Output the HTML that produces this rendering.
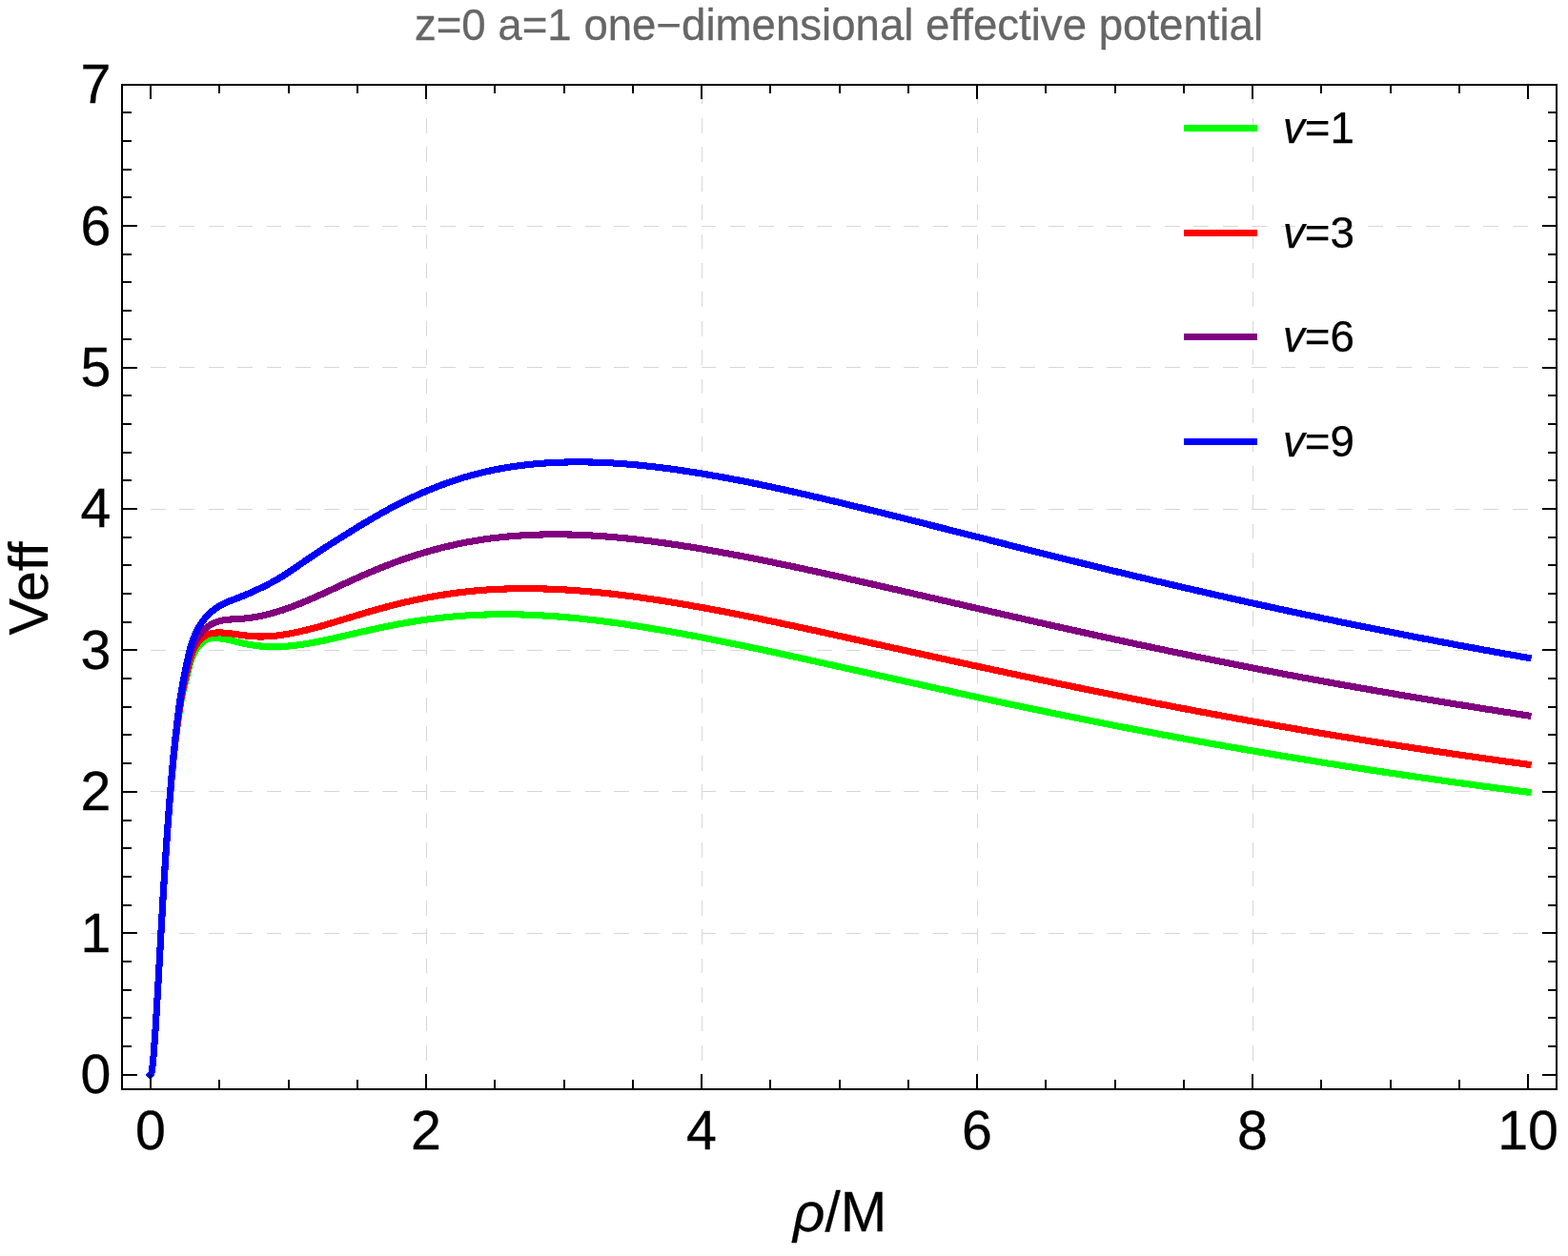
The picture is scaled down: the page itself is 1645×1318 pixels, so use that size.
<!DOCTYPE html>
<html lang="en"><head><meta charset="utf-8"><title>z=0 a=1 one-dimensional effective potential</title>
<style>html,body{margin:0;padding:0;background:#fff;}body{width:1645px;height:1318px;overflow:hidden;}svg{display:block;}</style>
</head><body>
<svg width="1645" height="1318" viewBox="0 0 1645 1318">
<rect width="1645" height="1318" fill="#fff"/>
<g stroke="#d7d7d7" stroke-width="1" fill="none" stroke-dasharray="15.8 14.6" shape-rendering="crispEdges">
<line x1="447.5" y1="1143.0" x2="447.5" y2="89.0"/>
<line x1="736.5" y1="1143.0" x2="736.5" y2="89.0"/>
<line x1="1025.5" y1="1143.0" x2="1025.5" y2="89.0"/>
<line x1="1314.5" y1="1143.0" x2="1314.5" y2="89.0"/>
<line x1="127.6" y1="979.5" x2="1633.0" y2="979.5"/>
<line x1="127.6" y1="830.5" x2="1633.0" y2="830.5"/>
<line x1="127.6" y1="682.5" x2="1633.0" y2="682.5"/>
<line x1="127.6" y1="534.5" x2="1633.0" y2="534.5"/>
<line x1="127.6" y1="385.5" x2="1633.0" y2="385.5"/>
<line x1="127.6" y1="237.5" x2="1633.0" y2="237.5"/>
</g>
<g fill="none" stroke-width="7.1" stroke-linecap="square" stroke-linejoin="round" shape-rendering="crispEdges">
<path stroke="#00ff00" d="M157.90,1128.00L158.60,1127.30L158.83,1126.15L159.04,1125.00L159.24,1123.84L159.43,1122.68L159.60,1121.53L159.77,1120.37L159.93,1119.21L160.07,1118.05L160.21,1116.88L160.34,1115.72L160.46,1114.56L160.58,1113.39L160.69,1112.23L160.80,1111.06L160.90,1109.89L160.99,1108.73L161.09,1107.56L161.18,1106.39L161.27,1105.22L161.36,1104.06L161.45,1102.89L161.54,1101.72L161.62,1100.55L161.71,1099.38L161.80,1098.22L161.88,1097.05L161.97,1095.88L162.05,1094.71L162.13,1093.54L162.22,1092.38L162.30,1091.21L162.38,1090.04L162.46,1088.87L162.54,1087.70L162.62,1086.53L162.70,1085.37L162.78,1084.20L162.86,1083.03L162.94,1081.86L163.01,1080.69L163.09,1079.52L163.17,1078.35L163.24,1077.19L163.32,1076.02L163.39,1074.85L163.47,1073.68L163.54,1072.51L163.62,1071.34L163.69,1070.17L163.76,1069.01L163.84,1067.84L163.91,1066.67L163.98,1065.50L164.05,1064.33L164.13,1063.16L164.20,1061.99L164.27,1060.82L164.34,1059.66L164.41,1058.49L164.48,1057.32L164.55,1056.15L164.62,1054.98L164.69,1053.81L164.76,1052.64L164.83,1051.47L164.90,1050.30L164.97,1049.14L165.03,1047.97L165.10,1046.80L165.17,1045.63L165.24,1044.46L165.31,1043.29L165.38,1042.12L165.44,1040.95L165.51,1039.78L165.58,1038.61L165.65,1037.45L165.71,1036.28L165.78,1035.11L165.85,1033.94L165.92,1032.77L165.98,1031.60L166.05,1030.43L166.12,1029.26L166.18,1028.09L166.25,1026.92L166.32,1025.75L166.38,1024.59L166.45,1023.42L166.52,1022.25L166.58,1021.08L166.65,1019.91L166.71,1018.74L166.78,1017.57L166.85,1016.40L166.91,1015.23L166.98,1014.06L167.05,1012.89L167.11,1011.72L167.18,1010.55L167.24,1009.39L167.31,1008.22L167.37,1007.05L167.44,1005.88L167.51,1004.71L167.57,1003.54L167.64,1002.37L167.70,1001.20L167.77,1000.03L167.84,998.86L167.90,997.69L167.97,996.52L168.03,995.36L168.10,994.19L168.16,993.02L168.23,991.85L168.30,990.68L168.36,989.51L168.43,988.34L168.49,987.17L168.56,986.00L168.63,984.83L168.69,983.66L168.76,982.49L168.83,981.32L168.89,980.16L168.96,978.99L169.03,977.82L169.09,976.65L169.16,975.48L169.23,974.31L169.29,973.14L169.36,971.97L169.43,970.80L169.49,969.63L169.56,968.46L169.63,967.29L169.70,966.13L169.76,964.96L169.83,963.79L169.90,962.62L169.97,961.45L170.04,960.28L170.10,959.11L170.17,957.94L170.24,956.77L170.31,955.60L170.38,954.44L170.45,953.27L170.52,952.10L170.59,950.93L170.66,949.76L170.73,948.59L170.80,947.42L170.87,946.25L170.94,945.08L171.01,943.92L171.08,942.75L171.15,941.58L171.22,940.41L171.29,939.24L171.36,938.07L171.43,936.90L171.50,935.73L171.57,934.56L171.65,933.40L171.72,932.23L171.79,931.06L171.86,929.89L171.93,928.72L172.01,927.55L172.08,926.38L172.15,925.21L172.23,924.05L172.30,922.88L172.37,921.71L172.45,920.54L172.52,919.37L172.60,918.20L172.67,917.03L172.75,915.87L172.82,914.70L172.90,913.53L172.97,912.36L173.05,911.19L173.12,910.02L173.20,908.85L173.28,907.69L173.35,906.52L173.43,905.35L173.51,904.18L173.58,903.01L173.66,901.84L173.74,900.67L173.82,899.51L173.90,898.34L173.97,897.17L174.05,896.00L174.13,894.83L174.21,893.66L174.29,892.50L174.37,891.33L174.45,890.16L174.53,888.99L174.61,887.82L174.69,886.66L174.77,885.49L174.86,884.32L174.94,883.15L175.02,881.98L175.10,880.81L175.18,879.65L175.27,878.48L175.35,877.31L175.43,876.14L175.52,874.97L175.60,873.81L175.69,872.64L175.77,871.47L175.86,870.30L175.94,869.13L176.03,867.97L176.11,866.80L176.20,865.63L176.28,864.46L176.37,863.29L176.46,862.13L176.55,860.96L176.63,859.79L176.72,858.62L176.81,857.45L176.90,856.29L176.99,855.12L177.08,853.95L177.17,852.78L177.26,851.62L177.35,850.45L177.44,849.28L177.53,848.11L177.63,846.95L177.72,845.78L177.81,844.61L177.90,843.44L178.00,842.28L178.09,841.11L178.19,839.94L178.28,838.77L178.38,837.61L178.48,836.44L178.57,835.27L178.67,834.11L178.77,832.94L178.87,831.77L178.96,830.60L179.06,829.44L179.16,828.27L179.26,827.10L179.36,825.94L179.47,824.77L179.57,823.60L179.67,822.44L179.77,821.27L179.88,820.10L179.98,818.94L180.09,817.77L180.19,816.61L180.30,815.44L180.40,814.27L180.51,813.11L180.62,811.94L180.73,810.78L180.84,809.61L180.95,808.44L181.06,807.28L181.17,806.11L181.28,804.95L181.39,803.78L181.51,802.62L181.62,801.45L181.73,800.29L181.85,799.12L181.96,797.96L182.08,796.79L182.20,795.63L182.32,794.46L182.43,793.30L182.55,792.13L182.67,790.97L182.80,789.80L182.92,788.64L183.04,787.47L183.17,786.31L183.29,785.15L183.42,783.98L183.55,782.82L183.67,781.65L183.80,780.49L183.94,779.33L184.07,778.16L184.20,777.00L184.34,775.84L184.47,774.67L184.61,773.51L184.75,772.35L184.89,771.19L185.03,770.02L185.17,768.86L185.32,767.70L185.46,766.54L185.61,765.38L185.76,764.22L185.91,763.05L186.06,761.89L186.22,760.73L186.37,759.57L186.53,758.41L186.69,757.25L186.85,756.09L187.01,754.93L187.18,753.77L187.34,752.61L187.51,751.45L187.68,750.29L187.85,749.13L188.03,747.97L188.21,746.81L188.38,745.65L188.57,744.50L188.75,743.34L188.94,742.18L189.13,741.03L189.32,739.87L189.52,738.72L189.72,737.56L189.92,736.41L190.13,735.25L190.34,734.10L190.56,732.95L190.78,731.80L191.01,730.65L191.24,729.51L191.47,728.36L191.71,727.22L191.96,726.07L192.21,724.93L192.46,723.79L192.73,722.65L193.00,721.51L193.27,720.38L193.55,719.24L193.83,718.11L194.12,716.97L194.41,715.84L194.69,714.71L194.98,713.57L195.26,712.43L195.54,711.29L195.81,710.15L196.09,709.01L196.36,707.87L196.64,706.73L196.91,705.59L197.19,704.45L197.48,703.31L197.77,702.17L198.07,701.04L198.37,699.91L198.69,698.78L199.01,697.65L199.35,696.53L199.69,695.41L200.05,694.30L200.43,693.20L200.82,692.10L201.23,691.00L201.66,689.92L202.10,688.84L202.57,687.76L203.06,686.70L203.57,685.65L204.10,684.60L204.66,683.56L205.25,682.54L205.86,681.52L206.50,680.52L207.17,679.54L207.86,678.59L208.59,677.66L209.34,676.76L210.13,675.90L210.95,675.08L211.80,674.31L212.68,673.58L213.59,672.91L214.54,672.29L215.52,671.74L216.53,671.25L217.58,670.83L218.66,670.48L219.77,670.20L220.91,669.98L222.07,669.81L223.25,669.69L224.44,669.63L225.64,669.60L226.85,669.62L228.06,669.68L229.27,669.76L230.48,669.88L231.68,670.02L232.86,670.18L234.04,670.36L235.21,670.55L236.36,670.76L237.51,670.98L238.65,671.21L239.78,671.46L240.91,671.71L242.04,671.97L243.16,672.24L244.28,672.51L245.39,672.79L246.51,673.07L247.63,673.34L248.75,673.62L249.88,673.89L251.01,674.16L252.14,674.43L253.28,674.69L254.43,674.94L255.57,675.19L256.72,675.44L257.87,675.67L259.03,675.91L260.19,676.13L261.35,676.35L262.51,676.55L263.67,676.75L264.83,676.95L266.00,677.13L267.17,677.30L268.33,677.47L269.50,677.62L270.67,677.77L271.84,677.90L273.00,678.02L274.17,678.13L275.34,678.24L276.51,678.33L277.67,678.41L278.84,678.49L280.01,678.55L281.17,678.60L282.34,678.65L283.51,678.68L284.67,678.71L285.84,678.72L287.01,678.73L288.18,678.73L289.34,678.72L290.51,678.70L291.68,678.67L292.84,678.63L294.01,678.59L295.18,678.53L296.35,678.47L297.51,678.40L298.68,678.32L299.85,678.24L301.01,678.15L302.18,678.05L303.35,677.94L304.51,677.83L305.68,677.71L306.84,677.58L308.01,677.45L309.17,677.31L310.34,677.17L311.50,677.02L312.66,676.86L313.82,676.70L314.98,676.54L316.15,676.37L317.31,676.19L318.46,676.01L319.62,675.83L320.78,675.64L321.94,675.45L323.09,675.25L324.25,675.05L325.40,674.85L326.55,674.64L327.71,674.43L328.86,674.22L330.01,674.00L331.16,673.78L332.31,673.56L333.46,673.33L334.61,673.11L335.75,672.87L336.90,672.64L338.05,672.40L339.19,672.17L340.34,671.93L341.49,671.68L342.63,671.44L343.77,671.19L344.92,670.94L346.06,670.69L347.21,670.44L348.35,670.19L349.49,669.93L350.63,669.68L351.78,669.42L352.92,669.16L354.06,668.90L355.20,668.64L356.34,668.38L357.48,668.12L358.63,667.86L359.77,667.60L360.91,667.34L362.05,667.07L363.19,666.81L364.33,666.55L365.47,666.29L366.61,666.02L367.76,665.76L368.90,665.50L370.04,665.23L371.18,664.97L372.32,664.71L373.46,664.45L374.60,664.19L375.74,663.93L376.89,663.67L378.03,663.40L379.17,663.15L380.31,662.89L381.45,662.63L382.60,662.37L383.74,662.11L384.88,661.85L386.02,661.60L387.17,661.34L388.31,661.09L389.45,660.84L390.60,660.58L391.74,660.33L392.88,660.08L394.03,659.83L395.17,659.58L396.32,659.34L397.46,659.09L398.60,658.85L399.75,658.60L400.90,658.36L402.04,658.12L403.19,657.88L404.33,657.65L405.48,657.41L406.63,657.17L407.77,656.94L408.92,656.71L410.07,656.48L411.22,656.25L412.37,656.03L413.52,655.81L414.67,655.58L415.82,655.36L416.97,655.15L418.12,654.93L419.27,654.72L420.42,654.50L421.57,654.29L422.72,654.09L423.88,653.88L425.03,653.68L426.18,653.48L427.34,653.28L428.49,653.08L429.65,652.89L430.80,652.70L431.96,652.51L433.12,652.32L434.27,652.14L435.43,651.95L436.59,651.77L437.74,651.59L438.90,651.42L440.06,651.24L441.22,651.07L442.38,650.90L443.54,650.73L444.70,650.57L445.86,650.40L447.02,650.24L448.18,650.08L449.34,649.93L450.50,649.77L451.66,649.62L452.82,649.47L453.99,649.33L455.15,649.18L456.31,649.04L457.48,648.90L458.64,648.76L459.80,648.62L460.97,648.49L462.13,648.36L463.29,648.23L464.46,648.10L465.62,647.98L466.79,647.86L467.95,647.74L469.12,647.62L470.29,647.50L471.45,647.39L472.62,647.28L473.78,647.17L474.95,647.06L476.12,646.96L477.28,646.86L478.45,646.76L479.62,646.66L480.79,646.57L481.95,646.48L483.12,646.39L484.29,646.30L485.46,646.22L486.63,646.13L487.79,646.05L488.96,645.97L490.13,645.90L491.30,645.83L492.47,645.75L493.64,645.69L494.81,645.62L495.98,645.56L497.15,645.49L498.32,645.44L499.49,645.38L500.66,645.32L501.83,645.27L503.00,645.22L504.16,645.18L505.33,645.13L506.50,645.09L507.68,645.05L508.85,645.01L510.02,644.98L511.19,644.94L512.36,644.91L513.53,644.88L514.70,644.86L515.87,644.83L517.04,644.81L518.21,644.79L519.38,644.77L520.55,644.76L521.72,644.74L522.89,644.73L524.06,644.72L525.23,644.72L526.40,644.71L527.57,644.71L528.74,644.71L529.92,644.71L531.09,644.72L532.26,644.72L533.43,644.73L534.60,644.74L535.77,644.75L536.94,644.77L538.11,644.79L539.28,644.80L540.45,644.83L541.62,644.85L542.79,644.87L543.96,644.90L545.14,644.93L546.31,644.96L547.48,644.99L548.65,645.03L549.82,645.06L550.99,645.10L552.16,645.14L553.33,645.18L554.50,645.23L555.67,645.27L556.84,645.32L558.01,645.37L559.18,645.42L560.35,645.47L561.52,645.53L562.69,645.59L563.86,645.65L565.03,645.71L566.20,645.77L567.37,645.83L568.54,645.90L569.71,645.97L570.88,646.04L572.05,646.11L573.22,646.18L574.38,646.25L575.55,646.33L576.72,646.41L577.89,646.49L579.06,646.57L580.23,646.65L581.40,646.74L582.56,646.82L583.73,646.91L584.90,647.00L586.07,647.09L587.24,647.18L588.40,647.28L589.57,647.37L590.74,647.47L591.91,647.57L593.07,647.67L594.24,647.77L595.41,647.87L596.57,647.98L597.74,648.09L598.91,648.19L600.07,648.30L601.24,648.41L602.40,648.53L603.57,648.64L604.73,648.76L605.90,648.87L607.06,648.99L608.23,649.11L609.39,649.23L610.56,649.35L611.72,649.48L612.89,649.60L614.05,649.73L615.22,649.85L616.38,649.98L617.54,650.11L618.71,650.24L619.87,650.38L621.03,650.51L622.20,650.65L623.36,650.78L624.52,650.92L625.68,651.06L626.85,651.20L628.01,651.34L629.17,651.49L630.33,651.63L631.49,651.78L632.65,651.92L633.82,652.07L634.98,652.22L636.14,652.37L637.30,652.52L638.46,652.68L639.62,652.83L640.78,652.99L641.94,653.14L643.10,653.30L644.26,653.46L645.42,653.62L646.58,653.78L647.74,653.94L648.90,654.10L650.06,654.27L651.22,654.43L652.38,654.60L653.54,654.77L654.70,654.93L655.85,655.10L657.01,655.27L658.17,655.45L659.33,655.62L660.49,655.79L661.64,655.97L662.80,656.14L663.96,656.32L665.12,656.50L666.27,656.68L667.43,656.85L668.59,657.03L669.75,657.22L670.90,657.40L672.06,657.58L673.22,657.77L674.37,657.95L675.53,658.14L676.68,658.32L677.84,658.51L679.00,658.70L680.15,658.89L681.31,659.08L682.46,659.27L683.62,659.46L684.77,659.66L685.93,659.85L687.08,660.04L688.24,660.24L689.39,660.43L690.55,660.63L691.70,660.83L692.86,661.03L694.01,661.23L695.16,661.43L696.32,661.63L697.47,661.83L698.63,662.03L699.78,662.23L700.93,662.44L702.09,662.64L703.24,662.85L704.39,663.05L705.54,663.26L706.70,663.46L707.85,663.67L709.00,663.88L710.16,664.09L711.31,664.30L712.46,664.51L713.61,664.72L714.76,664.93L715.92,665.14L717.07,665.35L718.22,665.57L719.37,665.78L720.52,665.99L721.67,666.21L722.82,666.42L723.98,666.64L725.13,666.86L726.28,667.07L727.43,667.29L728.58,667.51L729.73,667.73L730.88,667.95L732.03,668.17L733.18,668.39L734.33,668.61L735.48,668.83L736.63,669.05L737.78,669.27L738.93,669.49L740.08,669.72L741.23,669.94L742.38,670.16L743.53,670.39L744.68,670.61L745.83,670.84L746.97,671.06L748.12,671.29L749.27,671.52L750.42,671.75L751.57,671.97L752.72,672.20L753.87,672.43L755.01,672.66L756.16,672.89L757.31,673.12L758.46,673.35L759.61,673.58L760.76,673.81L761.90,674.04L763.05,674.27L764.20,674.51L765.35,674.74L766.49,674.97L767.64,675.21L768.79,675.44L769.94,675.67L771.08,675.91L772.23,676.14L773.38,676.38L774.52,676.62L775.67,676.85L776.82,677.09L777.96,677.33L779.11,677.56L780.26,677.80L781.40,678.04L782.55,678.28L783.70,678.52L784.84,678.76L785.99,679.00L787.14,679.24L788.28,679.48L789.43,679.72L790.57,679.96L791.72,680.20L792.86,680.44L794.01,680.68L795.16,680.92L796.30,681.17L797.45,681.41L798.59,681.65L799.74,681.90L800.88,682.14L802.03,682.38L803.17,682.63L804.32,682.87L805.46,683.12L806.61,683.36L807.75,683.61L808.90,683.85L810.04,684.10L811.19,684.35L812.33,684.59L813.48,684.84L814.62,685.09L815.77,685.33L816.91,685.58L818.06,685.83L819.20,686.07L820.35,686.32L821.49,686.57L822.64,686.82L823.78,687.07L824.92,687.32L826.07,687.57L827.21,687.82L828.36,688.07L829.50,688.31L830.64,688.56L831.79,688.81L832.93,689.06L834.08,689.32L835.22,689.57L836.36,689.82L837.51,690.07L838.65,690.32L839.80,690.57L840.94,690.82L842.08,691.07L843.23,691.33L844.37,691.58L845.51,691.83L846.66,692.08L847.80,692.33L848.94,692.59L850.09,692.84L851.23,693.09L852.38,693.34L853.52,693.60L854.66,693.85L855.81,694.10L856.95,694.36L858.09,694.61L859.24,694.86L860.38,695.12L861.52,695.37L862.67,695.62L863.81,695.88L864.95,696.13L866.09,696.39L867.24,696.64L868.38,696.89L869.52,697.15L870.67,697.40L871.81,697.66L872.95,697.91L874.10,698.17L875.24,698.42L876.38,698.68L877.53,698.93L878.67,699.18L879.81,699.44L880.96,699.69L882.10,699.95L883.24,700.20L884.38,700.46L885.53,700.71L886.67,700.97L887.81,701.22L888.96,701.48L890.10,701.73L891.24,701.99L892.39,702.24L893.53,702.50L894.67,702.75L895.81,703.01L896.96,703.26L898.10,703.52L899.24,703.77L900.39,704.03L901.53,704.28L902.67,704.54L903.82,704.79L904.96,705.05L906.10,705.30L907.24,705.56L908.39,705.81L909.53,706.07L910.67,706.32L911.82,706.58L912.96,706.83L914.10,707.09L915.25,707.34L916.39,707.59L917.53,707.85L918.67,708.10L919.82,708.36L920.96,708.61L922.10,708.87L923.25,709.12L924.39,709.38L925.53,709.63L926.68,709.89L927.82,710.14L928.96,710.40L930.11,710.65L931.25,710.91L932.39,711.16L933.53,711.42L934.68,711.67L935.82,711.92L936.96,712.18L938.11,712.43L939.25,712.69L940.39,712.94L941.54,713.20L942.68,713.45L943.82,713.70L944.97,713.96L946.11,714.21L947.25,714.47L948.40,714.72L949.54,714.97L950.68,715.23L951.82,715.48L952.97,715.74L954.11,715.99L955.25,716.24L956.40,716.50L957.54,716.75L958.68,717.00L959.83,717.26L960.97,717.51L962.11,717.76L963.26,718.02L964.40,718.27L965.54,718.52L966.69,718.78L967.83,719.03L968.97,719.28L970.12,719.54L971.26,719.79L972.40,720.04L973.55,720.29L974.69,720.55L975.84,720.80L976.98,721.05L978.12,721.30L979.27,721.56L980.41,721.81L981.55,722.06L982.70,722.31L983.84,722.56L984.98,722.82L986.13,723.07L987.27,723.32L988.41,723.57L989.56,723.82L990.70,724.07L991.85,724.32L992.99,724.58L994.13,724.83L995.28,725.08L996.42,725.33L997.57,725.58L998.71,725.83L999.85,726.08L1001.00,726.33L1002.14,726.58L1003.28,726.83L1004.43,727.08L1005.57,727.33L1006.72,727.58L1007.86,727.83L1009.01,728.08L1010.15,728.33L1011.29,728.58L1012.44,728.83L1013.58,729.08L1014.73,729.33L1015.87,729.57L1017.01,729.82L1018.16,730.07L1019.30,730.32L1020.45,730.57L1021.59,730.82L1022.74,731.07L1023.88,731.31L1025.03,731.56L1026.17,731.81L1027.31,732.06L1028.46,732.30L1029.60,732.55L1030.75,732.80L1031.89,733.05L1033.04,733.29L1034.18,733.54L1035.33,733.79L1036.47,734.03L1037.62,734.28L1038.76,734.52L1039.91,734.77L1041.05,735.02L1042.20,735.26L1043.34,735.51L1044.49,735.75L1045.63,736.00L1046.78,736.24L1047.92,736.49L1049.07,736.73L1050.21,736.98L1051.36,737.22L1052.50,737.47L1053.65,737.71L1054.79,737.95L1055.94,738.20L1057.08,738.44L1058.23,738.69L1059.37,738.93L1060.52,739.17L1061.67,739.41L1062.81,739.66L1063.96,739.90L1065.10,740.14L1066.25,740.38L1067.39,740.63L1068.54,740.87L1069.69,741.11L1070.83,741.35L1071.98,741.59L1073.12,741.83L1074.27,742.07L1075.41,742.32L1076.56,742.56L1077.71,742.80L1078.85,743.04L1080.00,743.28L1081.15,743.52L1082.29,743.76L1083.44,744.00L1084.58,744.23L1085.73,744.47L1086.88,744.71L1088.02,744.95L1089.17,745.19L1090.32,745.43L1091.46,745.67L1092.61,745.90L1093.76,746.14L1094.90,746.38L1096.05,746.62L1097.20,746.85L1098.34,747.09L1099.49,747.33L1100.64,747.56L1101.78,747.80L1102.93,748.03L1104.08,748.27L1105.23,748.51L1106.37,748.74L1107.52,748.98L1108.67,749.21L1109.81,749.45L1110.96,749.68L1112.11,749.92L1113.26,750.15L1114.40,750.38L1115.55,750.62L1116.70,750.85L1117.85,751.08L1118.99,751.32L1120.14,751.55L1121.29,751.78L1122.44,752.02L1123.58,752.25L1124.73,752.48L1125.88,752.71L1127.03,752.95L1128.18,753.18L1129.32,753.41L1130.47,753.64L1131.62,753.87L1132.77,754.10L1133.92,754.33L1135.06,754.56L1136.21,754.79L1137.36,755.02L1138.51,755.25L1139.66,755.48L1140.80,755.71L1141.95,755.94L1143.10,756.17L1144.25,756.40L1145.40,756.63L1146.55,756.86L1147.70,757.09L1148.84,757.31L1149.99,757.54L1151.14,757.77L1152.29,758.00L1153.44,758.22L1154.59,758.45L1155.74,758.68L1156.89,758.90L1158.03,759.13L1159.18,759.36L1160.33,759.58L1161.48,759.81L1162.63,760.03L1163.78,760.26L1164.93,760.49L1166.08,760.71L1167.23,760.94L1168.38,761.16L1169.53,761.38L1170.68,761.61L1171.82,761.83L1172.97,762.06L1174.12,762.28L1175.27,762.50L1176.42,762.73L1177.57,762.95L1178.72,763.17L1179.87,763.40L1181.02,763.62L1182.17,763.84L1183.32,764.06L1184.47,764.28L1185.62,764.51L1186.77,764.73L1187.92,764.95L1189.07,765.17L1190.22,765.39L1191.37,765.61L1192.52,765.83L1193.67,766.05L1194.82,766.27L1195.97,766.49L1197.12,766.71L1198.27,766.93L1199.42,767.15L1200.57,767.37L1201.72,767.59L1202.87,767.81L1204.02,768.03L1205.17,768.24L1206.33,768.46L1207.48,768.68L1208.63,768.90L1209.78,769.11L1210.93,769.33L1212.08,769.55L1213.23,769.77L1214.38,769.98L1215.53,770.20L1216.68,770.41L1217.83,770.63L1218.98,770.85L1220.14,771.06L1221.29,771.28L1222.44,771.49L1223.59,771.71L1224.74,771.92L1225.89,772.14L1227.04,772.35L1228.19,772.57L1229.35,772.78L1230.50,772.99L1231.65,773.21L1232.80,773.42L1233.95,773.63L1235.10,773.85L1236.25,774.06L1237.41,774.27L1238.56,774.48L1239.71,774.70L1240.86,774.91L1242.01,775.12L1243.16,775.33L1244.32,775.54L1245.47,775.75L1246.62,775.96L1247.77,776.17L1248.92,776.38L1250.08,776.60L1251.23,776.81L1252.38,777.02L1253.53,777.22L1254.68,777.43L1255.84,777.64L1256.99,777.85L1258.14,778.06L1259.29,778.27L1260.45,778.48L1261.60,778.69L1262.75,778.89L1263.90,779.10L1265.06,779.31L1266.21,779.52L1267.36,779.72L1268.51,779.93L1269.67,780.14L1270.82,780.34L1271.97,780.55L1273.12,780.76L1274.28,780.96L1275.43,781.17L1276.58,781.37L1277.74,781.58L1278.89,781.78L1280.04,781.99L1281.19,782.19L1282.35,782.40L1283.50,782.60L1284.65,782.81L1285.81,783.01L1286.96,783.21L1288.11,783.42L1289.27,783.62L1290.42,783.82L1291.57,784.03L1292.73,784.23L1293.88,784.43L1295.03,784.63L1296.19,784.84L1297.34,785.04L1298.49,785.24L1299.65,785.44L1300.80,785.64L1301.96,785.84L1303.11,786.04L1304.26,786.24L1305.42,786.44L1306.57,786.64L1307.72,786.84L1308.88,787.04L1310.03,787.24L1311.19,787.44L1312.34,787.64L1313.49,787.84L1314.65,788.04L1315.80,788.24L1316.96,788.44L1318.11,788.63L1319.26,788.83L1320.42,789.03L1321.57,789.23L1322.73,789.42L1323.88,789.62L1325.04,789.82L1326.19,790.01L1327.35,790.21L1328.50,790.41L1329.65,790.60L1330.81,790.80L1331.96,790.99L1333.12,791.19L1334.27,791.38L1335.43,791.58L1336.58,791.77L1337.74,791.97L1338.89,792.16L1340.05,792.36L1341.20,792.55L1342.36,792.74L1343.51,792.94L1344.67,793.13L1345.82,793.32L1346.98,793.52L1348.13,793.71L1349.29,793.90L1350.44,794.09L1351.60,794.29L1352.75,794.48L1353.91,794.67L1355.06,794.86L1356.22,795.05L1357.37,795.24L1358.53,795.43L1359.68,795.62L1360.84,795.81L1362.00,796.00L1363.15,796.19L1364.31,796.38L1365.46,796.57L1366.62,796.76L1367.77,796.95L1368.93,797.14L1370.09,797.33L1371.24,797.52L1372.40,797.71L1373.55,797.89L1374.71,798.08L1375.86,798.27L1377.02,798.46L1378.18,798.64L1379.33,798.83L1380.49,799.02L1381.64,799.20L1382.80,799.39L1383.96,799.58L1385.11,799.76L1386.27,799.95L1387.43,800.13L1388.58,800.32L1389.74,800.50L1390.89,800.69L1392.05,800.87L1393.21,801.06L1394.36,801.24L1395.52,801.43L1396.68,801.61L1397.83,801.79L1398.99,801.98L1400.15,802.16L1401.30,802.34L1402.46,802.53L1403.62,802.71L1404.77,802.89L1405.93,803.07L1407.09,803.26L1408.24,803.44L1409.40,803.62L1410.56,803.80L1411.71,803.98L1412.87,804.16L1414.03,804.35L1415.19,804.53L1416.34,804.71L1417.50,804.89L1418.66,805.07L1419.81,805.25L1420.97,805.43L1422.13,805.61L1423.29,805.79L1424.44,805.96L1425.60,806.14L1426.76,806.32L1427.91,806.50L1429.07,806.68L1430.23,806.86L1431.39,807.03L1432.54,807.21L1433.70,807.39L1434.86,807.57L1436.02,807.74L1437.17,807.92L1438.33,808.10L1439.49,808.27L1440.65,808.45L1441.80,808.63L1442.96,808.80L1444.12,808.98L1445.28,809.15L1446.44,809.33L1447.59,809.50L1448.75,809.68L1449.91,809.85L1451.07,810.03L1452.23,810.20L1453.38,810.38L1454.54,810.55L1455.70,810.72L1456.86,810.90L1458.02,811.07L1459.17,811.24L1460.33,811.42L1461.49,811.59L1462.65,811.76L1463.81,811.93L1464.97,812.11L1466.12,812.28L1467.28,812.45L1468.44,812.62L1469.60,812.79L1470.76,812.96L1471.92,813.14L1473.07,813.31L1474.23,813.48L1475.39,813.65L1476.55,813.82L1477.71,813.99L1478.87,814.16L1480.03,814.33L1481.19,814.50L1482.34,814.67L1483.50,814.83L1484.66,815.00L1485.82,815.17L1486.98,815.34L1488.14,815.51L1489.30,815.68L1490.46,815.85L1491.62,816.01L1492.77,816.18L1493.93,816.35L1495.09,816.51L1496.25,816.68L1497.41,816.85L1498.57,817.01L1499.73,817.18L1500.89,817.35L1502.05,817.51L1503.21,817.68L1504.37,817.84L1505.52,818.01L1506.68,818.17L1507.84,818.34L1509.00,818.50L1510.16,818.67L1511.32,818.83L1512.48,819.00L1513.64,819.16L1514.80,819.33L1515.96,819.49L1517.12,819.65L1518.28,819.82L1519.44,819.98L1520.60,820.14L1521.76,820.30L1522.92,820.47L1524.08,820.63L1525.24,820.79L1526.40,820.95L1527.56,821.12L1528.72,821.28L1529.88,821.44L1531.04,821.60L1532.20,821.76L1533.36,821.92L1534.52,822.08L1535.68,822.24L1536.84,822.40L1538.00,822.56L1539.16,822.72L1540.32,822.88L1541.48,823.04L1542.64,823.20L1543.80,823.36L1544.96,823.52L1546.12,823.68L1547.28,823.84L1548.44,823.99L1549.60,824.15L1550.76,824.31L1551.92,824.47L1553.08,824.63L1554.24,824.78L1555.40,824.94L1556.56,825.10L1557.72,825.25L1558.88,825.41L1560.04,825.57L1561.20,825.72L1562.36,825.88L1563.52,826.04L1564.68,826.19L1565.85,826.35L1567.01,826.50L1568.17,826.66L1569.33,826.81L1570.49,826.97L1571.65,827.12L1572.81,827.28L1573.97,827.43L1575.13,827.58L1576.29,827.74L1577.45,827.89L1578.61,828.05L1579.78,828.20L1580.94,828.35L1582.10,828.51L1583.26,828.66L1584.42,828.81L1585.58,828.96L1586.74,829.12L1587.90,829.27L1589.06,829.42L1590.22,829.57L1591.39,829.72L1592.55,829.87L1593.71,830.02L1594.87,830.18L1596.03,830.33L1597.19,830.48L1598.35,830.63L1599.51,830.78L1600.68,830.93L1601.84,831.08L1603.00,831.23"/>
<path stroke="#ff0000" d="M157.90,1128.00L158.60,1127.30L158.83,1126.14L159.04,1124.99L159.24,1123.83L159.43,1122.67L159.61,1121.51L159.78,1120.34L159.93,1119.18L160.08,1118.01L160.22,1116.85L160.35,1115.68L160.47,1114.51L160.59,1113.34L160.70,1112.17L160.80,1111.00L160.90,1109.83L161.00,1108.66L161.09,1107.49L161.18,1106.32L161.27,1105.14L161.36,1103.97L161.45,1102.80L161.54,1101.63L161.63,1100.46L161.72,1099.28L161.80,1098.11L161.89,1096.94L161.97,1095.77L162.06,1094.60L162.14,1093.42L162.22,1092.25L162.30,1091.08L162.39,1089.91L162.47,1088.73L162.55,1087.56L162.63,1086.39L162.71,1085.22L162.79,1084.04L162.87,1082.87L162.95,1081.70L163.02,1080.53L163.10,1079.35L163.18,1078.18L163.25,1077.01L163.33,1075.84L163.41,1074.66L163.48,1073.49L163.55,1072.32L163.63,1071.14L163.70,1069.97L163.78,1068.80L163.85,1067.63L163.92,1066.45L164.00,1065.28L164.07,1064.11L164.14,1062.94L164.21,1061.76L164.28,1060.59L164.35,1059.42L164.43,1058.24L164.50,1057.07L164.57,1055.90L164.64,1054.72L164.71,1053.55L164.78,1052.38L164.85,1051.21L164.92,1050.03L164.98,1048.86L165.05,1047.69L165.12,1046.51L165.19,1045.34L165.26,1044.17L165.33,1042.99L165.40,1041.82L165.46,1040.65L165.53,1039.47L165.60,1038.30L165.67,1037.13L165.74,1035.95L165.80,1034.78L165.87,1033.61L165.94,1032.43L166.01,1031.26L166.07,1030.09L166.14,1028.91L166.21,1027.74L166.27,1026.57L166.34,1025.39L166.41,1024.22L166.47,1023.05L166.54,1021.87L166.61,1020.70L166.67,1019.53L166.74,1018.35L166.80,1017.18L166.87,1016.01L166.94,1014.83L167.00,1013.66L167.07,1012.49L167.13,1011.31L167.20,1010.14L167.27,1008.97L167.33,1007.79L167.40,1006.62L167.46,1005.45L167.53,1004.27L167.60,1003.10L167.66,1001.93L167.73,1000.75L167.79,999.58L167.86,998.41L167.93,997.23L167.99,996.06L168.06,994.89L168.12,993.71L168.19,992.54L168.25,991.37L168.32,990.19L168.39,989.02L168.45,987.85L168.52,986.67L168.59,985.50L168.65,984.33L168.72,983.15L168.78,981.98L168.85,980.81L168.92,979.63L168.98,978.46L169.05,977.29L169.12,976.11L169.19,974.94L169.25,973.77L169.32,972.59L169.39,971.42L169.45,970.25L169.52,969.07L169.59,967.90L169.66,966.73L169.72,965.55L169.79,964.38L169.86,963.21L169.93,962.03L170.00,960.86L170.07,959.69L170.13,958.51L170.20,957.34L170.27,956.17L170.34,955.00L170.41,953.82L170.48,952.65L170.55,951.48L170.62,950.30L170.69,949.13L170.76,947.96L170.83,946.78L170.90,945.61L170.97,944.44L171.04,943.26L171.11,942.09L171.18,940.92L171.26,939.75L171.33,938.57L171.40,937.40L171.47,936.23L171.54,935.05L171.61,933.88L171.69,932.71L171.76,931.54L171.83,930.36L171.90,929.19L171.98,928.02L172.05,926.84L172.12,925.67L172.20,924.50L172.27,923.33L172.35,922.15L172.42,920.98L172.49,919.81L172.57,918.64L172.64,917.46L172.72,916.29L172.79,915.12L172.87,913.95L172.95,912.77L173.02,911.60L173.10,910.43L173.17,909.25L173.25,908.08L173.33,906.91L173.40,905.74L173.48,904.56L173.56,903.39L173.63,902.22L173.71,901.05L173.79,899.87L173.87,898.70L173.95,897.53L174.03,896.36L174.10,895.18L174.18,894.01L174.26,892.84L174.34,891.67L174.42,890.49L174.50,889.32L174.58,888.15L174.66,886.98L174.74,885.80L174.82,884.63L174.90,883.46L174.98,882.29L175.07,881.11L175.15,879.94L175.23,878.77L175.31,877.60L175.39,876.42L175.48,875.25L175.56,874.08L175.64,872.91L175.73,871.74L175.81,870.56L175.89,869.39L175.98,868.22L176.06,867.05L176.15,865.87L176.23,864.70L176.32,863.53L176.40,862.36L176.49,861.18L176.58,860.01L176.66,858.84L176.75,857.67L176.84,856.50L176.92,855.32L177.01,854.15L177.10,852.98L177.19,851.81L177.28,850.63L177.37,849.46L177.46,848.29L177.55,847.12L177.64,845.95L177.73,844.78L177.82,843.60L177.91,842.43L178.01,841.26L178.10,840.09L178.19,838.92L178.29,837.75L178.38,836.57L178.48,835.40L178.57,834.23L178.67,833.06L178.77,831.89L178.86,830.72L178.96,829.55L179.06,828.37L179.16,827.20L179.26,826.03L179.36,824.86L179.46,823.69L179.56,822.52L179.66,821.35L179.77,820.18L179.87,819.01L179.97,817.84L180.08,816.67L180.18,815.50L180.29,814.33L180.40,813.16L180.50,811.99L180.61,810.82L180.72,809.65L180.83,808.48L180.94,807.31L181.05,806.14L181.17,804.97L181.28,803.80L181.39,802.63L181.51,801.46L181.62,800.29L181.74,799.12L181.86,797.95L181.97,796.78L182.09,795.62L182.21,794.45L182.33,793.28L182.45,792.11L182.58,790.94L182.70,789.77L182.82,788.61L182.95,787.44L183.07,786.27L183.20,785.10L183.33,783.94L183.46,782.77L183.59,781.60L183.72,780.43L183.85,779.27L183.98,778.10L184.12,776.93L184.25,775.76L184.39,774.60L184.53,773.43L184.66,772.26L184.80,771.10L184.94,769.93L185.09,768.76L185.23,767.60L185.37,766.43L185.52,765.26L185.67,764.10L185.81,762.93L185.96,761.77L186.11,760.60L186.26,759.43L186.42,758.27L186.57,757.10L186.73,755.94L186.88,754.77L187.04,753.61L187.20,752.44L187.36,751.28L187.52,750.11L187.69,748.95L187.85,747.78L188.02,746.62L188.19,745.45L188.36,744.29L188.53,743.12L188.70,741.96L188.88,740.80L189.06,739.63L189.24,738.47L189.43,737.31L189.61,736.15L189.80,734.99L190.00,733.83L190.20,732.67L190.40,731.51L190.60,730.35L190.81,729.20L191.02,728.04L191.24,726.89L191.46,725.73L191.68,724.58L191.91,723.43L192.14,722.28L192.38,721.13L192.63,719.99L192.87,718.84L193.13,717.70L193.39,716.55L193.65,715.41L193.92,714.27L194.20,713.13L194.47,712.00L194.75,710.86L195.02,709.72L195.29,708.57L195.56,707.43L195.82,706.28L196.09,705.13L196.35,703.98L196.61,702.83L196.88,701.68L197.15,700.53L197.42,699.39L197.70,698.24L197.99,697.10L198.28,695.95L198.58,694.82L198.89,693.68L199.22,692.55L199.55,691.43L199.90,690.30L200.26,689.19L200.64,688.08L201.04,686.98L201.45,685.88L201.89,684.79L202.34,683.71L202.82,682.64L203.32,681.58L203.84,680.53L204.39,679.49L204.96,678.45L205.56,677.43L206.19,676.42L206.85,675.43L207.53,674.46L208.25,673.52L209.00,672.60L209.77,671.71L210.58,670.86L211.42,670.05L212.29,669.28L213.20,668.56L214.14,667.88L215.11,667.26L216.12,666.70L217.16,666.20L218.23,665.75L219.33,665.37L220.47,665.03L221.62,664.75L222.79,664.52L223.98,664.33L225.18,664.18L226.39,664.07L227.60,663.99L228.82,663.95L230.04,663.93L231.25,663.94L232.45,663.97L233.64,664.02L234.83,664.09L236.00,664.17L237.17,664.27L238.33,664.38L239.48,664.50L240.63,664.64L241.78,664.78L242.92,664.93L244.06,665.09L245.20,665.25L246.35,665.42L247.49,665.59L248.63,665.75L249.78,665.92L250.94,666.09L252.09,666.25L253.26,666.41L254.42,666.56L255.59,666.72L256.76,666.86L257.93,667.00L259.11,667.13L260.28,667.26L261.46,667.38L262.64,667.49L263.82,667.59L265.01,667.68L266.19,667.77L267.37,667.84L268.55,667.90L269.73,667.95L270.91,667.98L272.09,668.01L273.27,668.02L274.45,668.02L275.62,668.01L276.80,667.98L277.97,667.95L279.14,667.91L280.31,667.85L281.48,667.79L282.65,667.71L283.82,667.63L284.99,667.54L286.16,667.44L287.33,667.33L288.49,667.21L289.66,667.08L290.82,666.94L291.99,666.80L293.15,666.65L294.31,666.50L295.47,666.33L296.64,666.16L297.80,665.99L298.96,665.80L300.12,665.61L301.27,665.42L302.43,665.21L303.59,665.01L304.74,664.79L305.90,664.57L307.05,664.35L308.21,664.12L309.36,663.88L310.51,663.64L311.66,663.40L312.81,663.15L313.96,662.89L315.11,662.63L316.25,662.37L317.40,662.10L318.54,661.83L319.69,661.56L320.83,661.28L321.97,661.00L323.11,660.71L324.25,660.42L325.39,660.13L326.53,659.83L327.66,659.53L328.80,659.23L329.93,658.93L331.07,658.62L332.20,658.31L333.33,658.00L334.47,657.68L335.60,657.36L336.73,657.04L337.86,656.72L338.99,656.40L340.12,656.07L341.24,655.74L342.37,655.41L343.50,655.08L344.63,654.75L345.75,654.42L346.88,654.08L348.00,653.75L349.13,653.41L350.25,653.07L351.38,652.73L352.50,652.39L353.63,652.05L354.75,651.71L355.88,651.37L357.00,651.03L358.13,650.69L359.25,650.35L360.38,650.01L361.50,649.66L362.62,649.32L363.75,648.98L364.87,648.64L366.00,648.30L367.12,647.96L368.25,647.62L369.37,647.28L370.50,646.94L371.62,646.60L372.75,646.26L373.87,645.92L375.00,645.59L376.13,645.25L377.25,644.92L378.38,644.58L379.51,644.25L380.63,643.91L381.76,643.58L382.89,643.25L384.01,642.92L385.14,642.59L386.27,642.26L387.40,641.93L388.53,641.61L389.66,641.28L390.79,640.96L391.92,640.63L393.05,640.31L394.18,639.99L395.31,639.67L396.44,639.35L397.57,639.04L398.70,638.72L399.83,638.41L400.97,638.10L402.10,637.79L403.23,637.48L404.37,637.18L405.50,636.87L406.64,636.57L407.77,636.27L408.91,635.97L410.05,635.67L411.18,635.38L412.32,635.08L413.46,634.79L414.60,634.50L415.74,634.21L416.88,633.93L418.02,633.65L419.16,633.37L420.30,633.09L421.44,632.81L422.59,632.54L423.73,632.27L424.87,632.00L426.02,631.73L427.16,631.47L428.31,631.21L429.46,630.95L430.60,630.69L431.75,630.44L432.90,630.19L434.05,629.94L435.20,629.69L436.35,629.44L437.50,629.20L438.65,628.96L439.80,628.72L440.95,628.49L442.10,628.26L443.26,628.03L444.41,627.80L445.56,627.57L446.72,627.35L447.87,627.13L449.03,626.91L450.18,626.69L451.34,626.48L452.50,626.27L453.65,626.06L454.81,625.86L455.97,625.65L457.13,625.45L458.29,625.25L459.45,625.06L460.61,624.87L461.77,624.67L462.93,624.49L464.09,624.30L465.25,624.12L466.41,623.94L467.57,623.76L468.74,623.58L469.90,623.41L471.06,623.24L472.22,623.07L473.39,622.91L474.55,622.74L475.72,622.58L476.88,622.43L478.05,622.27L479.21,622.12L480.38,621.97L481.54,621.82L482.71,621.68L483.88,621.53L485.04,621.39L486.21,621.26L487.38,621.12L488.55,620.99L489.72,620.86L490.88,620.74L492.05,620.61L493.22,620.49L494.39,620.37L495.56,620.26L496.73,620.14L497.90,620.03L499.07,619.93L500.24,619.82L501.41,619.72L502.58,619.62L503.75,619.52L504.92,619.43L506.09,619.33L507.26,619.24L508.43,619.16L509.61,619.07L510.78,618.99L511.95,618.91L513.12,618.84L514.29,618.76L515.47,618.69L516.64,618.62L517.81,618.56L518.98,618.49L520.16,618.43L521.33,618.37L522.50,618.32L523.68,618.26L524.85,618.21L526.02,618.16L527.20,618.12L528.37,618.07L529.55,618.03L530.72,617.99L531.89,617.95L533.07,617.92L534.24,617.89L535.42,617.86L536.59,617.83L537.77,617.80L538.94,617.78L540.12,617.76L541.29,617.74L542.46,617.72L543.64,617.71L544.81,617.70L545.99,617.69L547.16,617.68L548.34,617.67L549.51,617.67L550.69,617.67L551.86,617.67L553.04,617.67L554.22,617.68L555.39,617.69L556.57,617.69L557.74,617.71L558.92,617.72L560.09,617.74L561.27,617.75L562.44,617.77L563.62,617.80L564.79,617.82L565.97,617.84L567.14,617.87L568.32,617.90L569.49,617.93L570.67,617.97L571.84,618.00L573.02,618.04L574.19,618.08L575.37,618.12L576.54,618.17L577.72,618.21L578.89,618.26L580.07,618.31L581.24,618.36L582.41,618.41L583.59,618.46L584.76,618.52L585.94,618.58L587.11,618.64L588.28,618.70L589.46,618.76L590.63,618.83L591.81,618.89L592.98,618.96L594.15,619.03L595.33,619.10L596.50,619.18L597.67,619.25L598.84,619.33L600.02,619.41L601.19,619.49L602.36,619.57L603.53,619.65L604.71,619.74L605.88,619.83L607.05,619.91L608.22,620.00L609.39,620.09L610.57,620.19L611.74,620.28L612.91,620.38L614.08,620.48L615.25,620.57L616.42,620.68L617.59,620.78L618.76,620.88L619.93,620.99L621.10,621.09L622.27,621.20L623.44,621.31L624.61,621.42L625.78,621.53L626.95,621.65L628.12,621.76L629.29,621.88L630.46,622.00L631.63,622.12L632.80,622.24L633.96,622.36L635.13,622.48L636.30,622.61L637.47,622.73L638.64,622.86L639.80,622.99L640.97,623.12L642.14,623.25L643.31,623.39L644.47,623.52L645.64,623.66L646.81,623.79L647.98,623.93L649.14,624.07L650.31,624.21L651.48,624.35L652.64,624.50L653.81,624.64L654.97,624.79L656.14,624.93L657.31,625.08L658.47,625.23L659.64,625.38L660.80,625.53L661.97,625.69L663.13,625.84L664.30,626.00L665.46,626.15L666.63,626.31L667.79,626.47L668.95,626.63L670.12,626.79L671.28,626.95L672.45,627.11L673.61,627.28L674.77,627.44L675.94,627.61L677.10,627.78L678.26,627.94L679.43,628.11L680.59,628.28L681.75,628.46L682.92,628.63L684.08,628.80L685.24,628.98L686.40,629.15L687.56,629.33L688.73,629.51L689.89,629.68L691.05,629.86L692.21,630.04L693.37,630.22L694.53,630.41L695.69,630.59L696.86,630.77L698.02,630.96L699.18,631.14L700.34,631.33L701.50,631.52L702.66,631.71L703.82,631.90L704.98,632.09L706.14,632.28L707.30,632.47L708.46,632.66L709.62,632.85L710.78,633.05L711.93,633.24L713.09,633.44L714.25,633.64L715.41,633.83L716.57,634.03L717.73,634.23L718.89,634.43L720.04,634.63L721.20,634.83L722.36,635.03L723.52,635.23L724.68,635.44L725.83,635.64L726.99,635.85L728.15,636.05L729.30,636.26L730.46,636.46L731.62,636.67L732.77,636.88L733.93,637.09L735.09,637.30L736.24,637.51L737.40,637.72L738.56,637.93L739.71,638.14L740.87,638.35L742.02,638.57L743.18,638.78L744.33,638.99L745.49,639.21L746.64,639.43L747.80,639.64L748.95,639.86L750.11,640.08L751.26,640.29L752.42,640.51L753.57,640.73L754.73,640.95L755.88,641.17L757.03,641.39L758.19,641.61L759.34,641.84L760.50,642.06L761.65,642.28L762.80,642.51L763.96,642.73L765.11,642.95L766.26,643.18L767.42,643.41L768.57,643.63L769.72,643.86L770.88,644.09L772.03,644.31L773.18,644.54L774.33,644.77L775.49,645.00L776.64,645.23L777.79,645.46L778.94,645.69L780.09,645.92L781.25,646.16L782.40,646.39L783.55,646.62L784.70,646.85L785.85,647.09L787.01,647.32L788.16,647.56L789.31,647.79L790.46,648.03L791.61,648.26L792.76,648.50L793.91,648.73L795.06,648.97L796.21,649.21L797.37,649.45L798.52,649.68L799.67,649.92L800.82,650.16L801.97,650.40L803.12,650.64L804.27,650.88L805.42,651.12L806.57,651.36L807.72,651.60L808.87,651.84L810.02,652.09L811.17,652.33L812.32,652.57L813.47,652.81L814.62,653.06L815.77,653.30L816.92,653.54L818.07,653.79L819.22,654.03L820.37,654.28L821.52,654.52L822.67,654.77L823.81,655.01L824.96,655.26L826.11,655.50L827.26,655.75L828.41,656.00L829.56,656.24L830.71,656.49L831.86,656.74L833.01,656.98L834.16,657.23L835.30,657.48L836.45,657.73L837.60,657.98L838.75,658.22L839.90,658.47L841.05,658.72L842.20,658.97L843.34,659.22L844.49,659.47L845.64,659.72L846.79,659.97L847.94,660.22L849.09,660.47L850.24,660.72L851.38,660.97L852.53,661.22L853.68,661.47L854.83,661.73L855.98,661.98L857.12,662.23L858.27,662.48L859.42,662.73L860.57,662.98L861.72,663.24L862.86,663.49L864.01,663.74L865.16,663.99L866.31,664.24L867.46,664.50L868.60,664.75L869.75,665.00L870.90,665.25L872.05,665.51L873.19,665.76L874.34,666.01L875.49,666.27L876.64,666.52L877.79,666.77L878.93,667.02L880.08,667.28L881.23,667.53L882.38,667.78L883.52,668.04L884.67,668.29L885.82,668.54L886.97,668.80L888.11,669.05L889.26,669.30L890.41,669.56L891.56,669.81L892.70,670.06L893.85,670.32L895.00,670.57L896.15,670.82L897.30,671.08L898.44,671.33L899.59,671.58L900.74,671.84L901.89,672.09L903.03,672.34L904.18,672.60L905.33,672.85L906.48,673.11L907.62,673.36L908.77,673.61L909.92,673.87L911.07,674.12L912.21,674.37L913.36,674.63L914.51,674.88L915.66,675.13L916.80,675.39L917.95,675.64L919.10,675.90L920.25,676.15L921.39,676.40L922.54,676.66L923.69,676.91L924.84,677.16L925.98,677.42L927.13,677.67L928.28,677.92L929.43,678.18L930.57,678.43L931.72,678.69L932.87,678.94L934.02,679.19L935.16,679.45L936.31,679.70L937.46,679.95L938.61,680.21L939.75,680.46L940.90,680.71L942.05,680.97L943.20,681.22L944.34,681.47L945.49,681.73L946.64,681.98L947.79,682.23L948.93,682.49L950.08,682.74L951.23,682.99L952.38,683.25L953.52,683.50L954.67,683.75L955.82,684.01L956.97,684.26L958.12,684.51L959.26,684.76L960.41,685.02L961.56,685.27L962.71,685.52L963.85,685.78L965.00,686.03L966.15,686.28L967.30,686.53L968.44,686.79L969.59,687.04L970.74,687.29L971.89,687.54L973.04,687.80L974.18,688.05L975.33,688.30L976.48,688.55L977.63,688.81L978.77,689.06L979.92,689.31L981.07,689.56L982.22,689.81L983.37,690.07L984.51,690.32L985.66,690.57L986.81,690.82L987.96,691.07L989.10,691.33L990.25,691.58L991.40,691.83L992.55,692.08L993.70,692.33L994.84,692.58L995.99,692.83L997.14,693.09L998.29,693.34L999.44,693.59L1000.58,693.84L1001.73,694.09L1002.88,694.34L1004.03,694.59L1005.18,694.84L1006.32,695.09L1007.47,695.34L1008.62,695.59L1009.77,695.84L1010.92,696.09L1012.07,696.34L1013.21,696.59L1014.36,696.84L1015.51,697.09L1016.66,697.34L1017.81,697.59L1018.95,697.84L1020.10,698.09L1021.25,698.34L1022.40,698.59L1023.55,698.84L1024.70,699.09L1025.84,699.34L1026.99,699.59L1028.14,699.84L1029.29,700.09L1030.44,700.34L1031.59,700.58L1032.74,700.83L1033.88,701.08L1035.03,701.33L1036.18,701.58L1037.33,701.83L1038.48,702.07L1039.63,702.32L1040.78,702.57L1041.93,702.82L1043.07,703.07L1044.22,703.31L1045.37,703.56L1046.52,703.81L1047.67,704.06L1048.82,704.30L1049.97,704.55L1051.12,704.80L1052.26,705.04L1053.41,705.29L1054.56,705.54L1055.71,705.78L1056.86,706.03L1058.01,706.27L1059.16,706.52L1060.31,706.77L1061.46,707.01L1062.61,707.26L1063.76,707.50L1064.91,707.75L1066.05,707.99L1067.20,708.24L1068.35,708.48L1069.50,708.73L1070.65,708.97L1071.80,709.22L1072.95,709.46L1074.10,709.71L1075.25,709.95L1076.40,710.19L1077.55,710.44L1078.70,710.68L1079.85,710.93L1081.00,711.17L1082.15,711.41L1083.30,711.66L1084.45,711.90L1085.60,712.14L1086.75,712.38L1087.90,712.63L1089.05,712.87L1090.20,713.11L1091.35,713.35L1092.50,713.60L1093.65,713.84L1094.80,714.08L1095.95,714.32L1097.10,714.56L1098.25,714.80L1099.40,715.05L1100.55,715.29L1101.70,715.53L1102.85,715.77L1104.00,716.01L1105.15,716.25L1106.30,716.49L1107.45,716.73L1108.60,716.97L1109.75,717.21L1110.90,717.45L1112.05,717.69L1113.20,717.93L1114.35,718.17L1115.50,718.41L1116.65,718.64L1117.80,718.88L1118.95,719.12L1120.11,719.36L1121.26,719.60L1122.41,719.84L1123.56,720.07L1124.71,720.31L1125.86,720.55L1127.01,720.79L1128.16,721.02L1129.31,721.26L1130.46,721.50L1131.61,721.73L1132.77,721.97L1133.92,722.21L1135.07,722.44L1136.22,722.68L1137.37,722.92L1138.52,723.15L1139.67,723.39L1140.82,723.62L1141.98,723.86L1143.13,724.09L1144.28,724.33L1145.43,724.56L1146.58,724.80L1147.73,725.03L1148.89,725.27L1150.04,725.50L1151.19,725.74L1152.34,725.97L1153.49,726.20L1154.64,726.44L1155.80,726.67L1156.95,726.90L1158.10,727.14L1159.25,727.37L1160.40,727.60L1161.55,727.84L1162.71,728.07L1163.86,728.30L1165.01,728.53L1166.16,728.76L1167.32,729.00L1168.47,729.23L1169.62,729.46L1170.77,729.69L1171.92,729.92L1173.08,730.15L1174.23,730.38L1175.38,730.61L1176.53,730.84L1177.69,731.07L1178.84,731.30L1179.99,731.53L1181.14,731.76L1182.30,731.99L1183.45,732.22L1184.60,732.45L1185.75,732.68L1186.91,732.91L1188.06,733.14L1189.21,733.37L1190.37,733.59L1191.52,733.82L1192.67,734.05L1193.82,734.28L1194.98,734.51L1196.13,734.73L1197.28,734.96L1198.44,735.19L1199.59,735.41L1200.74,735.64L1201.90,735.87L1203.05,736.09L1204.20,736.32L1205.36,736.55L1206.51,736.77L1207.66,737.00L1208.82,737.22L1209.97,737.45L1211.12,737.67L1212.28,737.90L1213.43,738.12L1214.58,738.35L1215.74,738.57L1216.89,738.79L1218.04,739.02L1219.20,739.24L1220.35,739.47L1221.50,739.69L1222.66,739.91L1223.81,740.14L1224.97,740.36L1226.12,740.58L1227.27,740.80L1228.43,741.03L1229.58,741.25L1230.74,741.47L1231.89,741.69L1233.04,741.91L1234.20,742.13L1235.35,742.36L1236.51,742.58L1237.66,742.80L1238.82,743.02L1239.97,743.24L1241.12,743.46L1242.28,743.68L1243.43,743.90L1244.59,744.12L1245.74,744.34L1246.90,744.56L1248.05,744.77L1249.21,744.99L1250.36,745.21L1251.52,745.43L1252.67,745.65L1253.83,745.87L1254.98,746.08L1256.13,746.30L1257.29,746.52L1258.44,746.74L1259.60,746.95L1260.75,747.17L1261.91,747.39L1263.06,747.60L1264.22,747.82L1265.37,748.04L1266.53,748.25L1267.69,748.47L1268.84,748.68L1270.00,748.90L1271.15,749.11L1272.31,749.33L1273.46,749.54L1274.62,749.76L1275.77,749.97L1276.93,750.18L1278.08,750.40L1279.24,750.61L1280.40,750.83L1281.55,751.04L1282.71,751.25L1283.86,751.46L1285.02,751.68L1286.17,751.89L1287.33,752.10L1288.49,752.31L1289.64,752.52L1290.80,752.74L1291.95,752.95L1293.11,753.16L1294.27,753.37L1295.42,753.58L1296.58,753.79L1297.73,754.00L1298.89,754.21L1300.05,754.42L1301.20,754.63L1302.36,754.84L1303.52,755.05L1304.67,755.26L1305.83,755.47L1306.99,755.68L1308.14,755.88L1309.30,756.09L1310.46,756.30L1311.61,756.51L1312.77,756.72L1313.93,756.92L1315.08,757.13L1316.24,757.34L1317.40,757.54L1318.55,757.75L1319.71,757.96L1320.87,758.16L1322.02,758.37L1323.18,758.57L1324.34,758.78L1325.50,758.98L1326.65,759.19L1327.81,759.39L1328.97,759.60L1330.12,759.80L1331.28,760.01L1332.44,760.21L1333.60,760.41L1334.75,760.62L1335.91,760.82L1337.07,761.02L1338.23,761.22L1339.38,761.43L1340.54,761.63L1341.70,761.83L1342.86,762.03L1344.01,762.24L1345.17,762.44L1346.33,762.64L1347.49,762.84L1348.65,763.04L1349.80,763.24L1350.96,763.44L1352.12,763.64L1353.28,763.84L1354.44,764.04L1355.59,764.24L1356.75,764.44L1357.91,764.64L1359.07,764.84L1360.23,765.03L1361.39,765.23L1362.54,765.43L1363.70,765.63L1364.86,765.83L1366.02,766.02L1367.18,766.22L1368.34,766.42L1369.49,766.62L1370.65,766.81L1371.81,767.01L1372.97,767.20L1374.13,767.40L1375.29,767.60L1376.45,767.79L1377.61,767.99L1378.76,768.18L1379.92,768.38L1381.08,768.57L1382.24,768.77L1383.40,768.96L1384.56,769.16L1385.72,769.35L1386.88,769.54L1388.04,769.74L1389.20,769.93L1390.36,770.12L1391.51,770.32L1392.67,770.51L1393.83,770.70L1394.99,770.89L1396.15,771.09L1397.31,771.28L1398.47,771.47L1399.63,771.66L1400.79,771.85L1401.95,772.04L1403.11,772.23L1404.27,772.42L1405.43,772.61L1406.59,772.80L1407.75,772.99L1408.91,773.18L1410.07,773.37L1411.23,773.56L1412.39,773.75L1413.55,773.94L1414.71,774.13L1415.87,774.32L1417.03,774.51L1418.19,774.70L1419.35,774.88L1420.51,775.07L1421.67,775.26L1422.83,775.45L1423.99,775.63L1425.15,775.82L1426.31,776.01L1427.47,776.19L1428.63,776.38L1429.79,776.57L1430.95,776.75L1432.11,776.94L1433.27,777.12L1434.43,777.31L1435.59,777.49L1436.75,777.68L1437.91,777.86L1439.07,778.05L1440.23,778.23L1441.39,778.42L1442.55,778.60L1443.72,778.78L1444.88,778.97L1446.04,779.15L1447.20,779.33L1448.36,779.52L1449.52,779.70L1450.68,779.88L1451.84,780.06L1453.00,780.25L1454.16,780.43L1455.32,780.61L1456.49,780.79L1457.65,780.97L1458.81,781.15L1459.97,781.34L1461.13,781.52L1462.29,781.70L1463.45,781.88L1464.61,782.06L1465.78,782.24L1466.94,782.42L1468.10,782.60L1469.26,782.78L1470.42,782.96L1471.58,783.14L1472.74,783.31L1473.91,783.49L1475.07,783.67L1476.23,783.85L1477.39,784.03L1478.55,784.21L1479.71,784.38L1480.88,784.56L1482.04,784.74L1483.20,784.92L1484.36,785.09L1485.52,785.27L1486.68,785.45L1487.85,785.62L1489.01,785.80L1490.17,785.98L1491.33,786.15L1492.49,786.33L1493.66,786.50L1494.82,786.68L1495.98,786.85L1497.14,787.03L1498.30,787.20L1499.47,787.38L1500.63,787.55L1501.79,787.73L1502.95,787.90L1504.12,788.07L1505.28,788.25L1506.44,788.42L1507.60,788.59L1508.76,788.77L1509.93,788.94L1511.09,789.11L1512.25,789.29L1513.41,789.46L1514.58,789.63L1515.74,789.80L1516.90,789.97L1518.06,790.15L1519.23,790.32L1520.39,790.49L1521.55,790.66L1522.72,790.83L1523.88,791.00L1525.04,791.17L1526.20,791.34L1527.37,791.51L1528.53,791.68L1529.69,791.85L1530.85,792.02L1532.02,792.19L1533.18,792.36L1534.34,792.53L1535.51,792.70L1536.67,792.87L1537.83,793.04L1539.00,793.21L1540.16,793.37L1541.32,793.54L1542.48,793.71L1543.65,793.88L1544.81,794.05L1545.97,794.21L1547.14,794.38L1548.30,794.55L1549.46,794.71L1550.63,794.88L1551.79,795.05L1552.95,795.21L1554.12,795.38L1555.28,795.55L1556.44,795.71L1557.61,795.88L1558.77,796.04L1559.93,796.21L1561.10,796.37L1562.26,796.54L1563.42,796.70L1564.59,796.87L1565.75,797.03L1566.92,797.20L1568.08,797.36L1569.24,797.52L1570.41,797.69L1571.57,797.85L1572.73,798.01L1573.90,798.18L1575.06,798.34L1576.23,798.50L1577.39,798.67L1578.55,798.83L1579.72,798.99L1580.88,799.15L1582.04,799.32L1583.21,799.48L1584.37,799.64L1585.54,799.80L1586.70,799.96L1587.86,800.12L1589.03,800.28L1590.19,800.45L1591.36,800.61L1592.52,800.77L1593.68,800.93L1594.85,801.09L1596.01,801.25L1597.18,801.41L1598.34,801.57L1599.51,801.73L1600.67,801.89L1601.83,802.05L1603.00,802.20"/>
<path stroke="#800080" d="M157.90,1128.00L158.60,1127.30L158.83,1126.13L159.05,1124.96L159.25,1123.79L159.44,1122.62L159.62,1121.45L159.78,1120.27L159.94,1119.10L160.09,1117.92L160.23,1116.74L160.36,1115.56L160.48,1114.38L160.60,1113.20L160.71,1112.02L160.82,1110.84L160.92,1109.65L161.01,1108.47L161.11,1107.29L161.20,1106.10L161.29,1104.92L161.38,1103.74L161.47,1102.55L161.56,1101.37L161.65,1100.18L161.74,1099.00L161.83,1097.82L161.91,1096.63L162.00,1095.45L162.08,1094.26L162.17,1093.08L162.25,1091.89L162.33,1090.71L162.42,1089.53L162.50,1088.34L162.58,1087.16L162.66,1085.97L162.74,1084.79L162.82,1083.60L162.90,1082.42L162.98,1081.24L163.06,1080.05L163.13,1078.87L163.21,1077.68L163.29,1076.50L163.36,1075.31L163.44,1074.13L163.51,1072.94L163.59,1071.76L163.66,1070.57L163.74,1069.39L163.81,1068.20L163.89,1067.02L163.96,1065.84L164.03,1064.65L164.10,1063.47L164.18,1062.28L164.25,1061.10L164.32,1059.91L164.39,1058.73L164.46,1057.54L164.53,1056.36L164.60,1055.17L164.67,1053.99L164.75,1052.80L164.82,1051.62L164.89,1050.43L164.95,1049.25L165.02,1048.06L165.09,1046.88L165.16,1045.69L165.23,1044.51L165.30,1043.32L165.37,1042.14L165.44,1040.95L165.51,1039.77L165.58,1038.58L165.64,1037.40L165.71,1036.21L165.78,1035.03L165.85,1033.84L165.92,1032.65L165.98,1031.47L166.05,1030.28L166.12,1029.10L166.19,1027.91L166.25,1026.73L166.32,1025.54L166.39,1024.36L166.45,1023.17L166.52,1021.99L166.59,1020.80L166.66,1019.62L166.72,1018.43L166.79,1017.25L166.86,1016.06L166.92,1014.88L166.99,1013.69L167.06,1012.51L167.12,1011.32L167.19,1010.14L167.25,1008.95L167.32,1007.77L167.39,1006.58L167.45,1005.39L167.52,1004.21L167.59,1003.02L167.65,1001.84L167.72,1000.65L167.79,999.47L167.85,998.28L167.92,997.10L167.98,995.91L168.05,994.73L168.12,993.54L168.18,992.36L168.25,991.17L168.32,989.99L168.38,988.80L168.45,987.62L168.52,986.43L168.58,985.25L168.65,984.06L168.72,982.87L168.78,981.69L168.85,980.50L168.92,979.32L168.98,978.13L169.05,976.95L169.12,975.76L169.19,974.58L169.25,973.39L169.32,972.21L169.39,971.02L169.45,969.84L169.52,968.65L169.59,967.47L169.66,966.28L169.73,965.10L169.79,963.91L169.86,962.73L169.93,961.54L170.00,960.36L170.07,959.17L170.14,957.99L170.21,956.80L170.28,955.62L170.34,954.43L170.41,953.25L170.48,952.06L170.55,950.88L170.62,949.69L170.69,948.51L170.76,947.32L170.83,946.14L170.90,944.95L170.97,943.77L171.04,942.58L171.12,941.40L171.19,940.21L171.26,939.03L171.33,937.84L171.40,936.66L171.47,935.47L171.54,934.29L171.62,933.10L171.69,931.92L171.76,930.73L171.83,929.55L171.91,928.36L171.98,927.18L172.05,925.99L172.13,924.81L172.20,923.62L172.27,922.44L172.35,921.25L172.42,920.07L172.50,918.88L172.57,917.70L172.64,916.51L172.72,915.33L172.79,914.14L172.87,912.96L172.95,911.78L173.02,910.59L173.10,909.41L173.17,908.22L173.25,907.04L173.33,905.85L173.40,904.67L173.48,903.48L173.56,902.30L173.63,901.11L173.71,899.93L173.79,898.75L173.87,897.56L173.95,896.38L174.03,895.19L174.10,894.01L174.18,892.82L174.26,891.64L174.34,890.45L174.42,889.27L174.50,888.09L174.58,886.90L174.66,885.72L174.74,884.53L174.82,883.35L174.91,882.16L174.99,880.98L175.07,879.79L175.15,878.61L175.23,877.43L175.32,876.24L175.40,875.06L175.48,873.87L175.57,872.69L175.65,871.51L175.73,870.32L175.82,869.14L175.90,867.95L175.99,866.77L176.07,865.58L176.16,864.40L176.24,863.22L176.33,862.03L176.42,860.85L176.50,859.66L176.59,858.48L176.68,857.30L176.76,856.11L176.85,854.93L176.94,853.75L177.03,852.56L177.12,851.38L177.21,850.19L177.30,849.01L177.39,847.83L177.48,846.64L177.57,845.46L177.66,844.28L177.75,843.09L177.85,841.91L177.94,840.72L178.03,839.54L178.13,838.36L178.22,837.17L178.32,835.99L178.41,834.81L178.51,833.62L178.60,832.44L178.70,831.26L178.80,830.08L178.90,828.89L179.00,827.71L179.10,826.53L179.20,825.34L179.30,824.16L179.40,822.98L179.50,821.80L179.60,820.61L179.70,819.43L179.81,818.25L179.91,817.06L180.01,815.88L180.12,814.70L180.23,813.52L180.33,812.34L180.44,811.15L180.55,809.97L180.66,808.79L180.76,807.61L180.87,806.42L180.99,805.24L181.10,804.06L181.21,802.88L181.32,801.70L181.43,800.52L181.55,799.33L181.66,798.15L181.78,796.97L181.90,795.79L182.01,794.61L182.13,793.43L182.25,792.25L182.37,791.07L182.49,789.88L182.61,788.70L182.73,787.52L182.86,786.34L182.98,785.16L183.11,783.98L183.23,782.80L183.36,781.62L183.49,780.44L183.62,779.26L183.74,778.08L183.88,776.90L184.01,775.72L184.14,774.54L184.27,773.36L184.41,772.18L184.54,771.00L184.68,769.82L184.82,768.64L184.96,767.47L185.10,766.29L185.24,765.11L185.38,763.93L185.52,762.75L185.67,761.57L185.81,760.40L185.96,759.22L186.11,758.04L186.26,756.86L186.41,755.68L186.56,754.51L186.71,753.33L186.87,752.15L187.02,750.98L187.18,749.80L187.34,748.62L187.50,747.45L187.66,746.27L187.82,745.10L187.99,743.92L188.15,742.74L188.32,741.57L188.49,740.39L188.66,739.22L188.83,738.04L189.01,736.87L189.18,735.70L189.36,734.52L189.54,733.35L189.73,732.18L189.91,731.00L190.10,729.83L190.29,728.66L190.48,727.49L190.68,726.32L190.88,725.15L191.08,723.98L191.28,722.81L191.48,721.64L191.69,720.47L191.90,719.30L192.12,718.14L192.34,716.97L192.56,715.80L192.78,714.64L193.01,713.47L193.24,712.30L193.47,711.14L193.71,709.98L193.95,708.81L194.19,707.65L194.43,706.49L194.68,705.32L194.92,704.16L195.18,703.00L195.43,701.84L195.69,700.68L195.95,699.52L196.21,698.36L196.48,697.21L196.76,696.05L197.04,694.90L197.33,693.75L197.63,692.60L197.94,691.46L198.26,690.32L198.59,689.18L198.92,688.05L199.27,686.92L199.64,685.79L200.01,684.67L200.40,683.56L200.81,682.45L201.22,681.34L201.66,680.25L202.11,679.15L202.58,678.07L203.06,676.99L203.57,675.91L204.09,674.85L204.64,673.79L205.20,672.74L205.79,671.69L206.39,670.66L207.02,669.64L207.67,668.63L208.34,667.63L209.04,666.65L209.76,665.69L210.50,664.75L211.26,663.83L212.04,662.93L212.85,662.06L213.68,661.21L214.54,660.39L215.42,659.60L216.32,658.84L217.25,658.11L218.20,657.41L219.17,656.75L220.16,656.12L221.18,655.53L222.21,654.96L223.26,654.44L224.33,653.94L225.41,653.47L226.51,653.04L227.62,652.64L228.74,652.27L229.87,651.93L231.01,651.63L232.16,651.36L233.32,651.11L234.48,650.90L235.65,650.71L236.83,650.54L238.01,650.40L239.19,650.27L240.38,650.16L241.57,650.06L242.76,649.97L243.96,649.90L245.15,649.82L246.35,649.75L247.54,649.69L248.74,649.62L249.93,649.54L251.12,649.46L252.31,649.37L253.50,649.28L254.68,649.18L255.87,649.07L257.05,648.95L258.23,648.83L259.41,648.69L260.58,648.55L261.76,648.40L262.93,648.25L264.10,648.08L265.27,647.91L266.44,647.73L267.61,647.53L268.78,647.33L269.94,647.12L271.11,646.91L272.27,646.68L273.43,646.44L274.59,646.19L275.75,645.94L276.90,645.68L278.06,645.41L279.21,645.13L280.37,644.84L281.52,644.55L282.67,644.25L283.81,643.94L284.96,643.63L286.11,643.31L287.25,642.98L288.39,642.65L289.53,642.31L290.67,641.97L291.80,641.62L292.94,641.26L294.07,640.90L295.20,640.53L296.33,640.16L297.46,639.79L298.58,639.41L299.71,639.02L300.83,638.64L301.95,638.24L303.07,637.84L304.19,637.44L305.30,637.03L306.41,636.62L307.53,636.21L308.64,635.79L309.75,635.37L310.85,634.94L311.96,634.51L313.07,634.07L314.17,633.64L315.27,633.19L316.37,632.75L317.47,632.30L318.57,631.85L319.66,631.40L320.76,630.94L321.85,630.48L322.94,630.01L324.04,629.55L325.12,629.08L326.21,628.61L327.30,628.13L328.39,627.66L329.47,627.18L330.56,626.70L331.64,626.22L332.72,625.73L333.81,625.25L334.89,624.76L335.97,624.27L337.05,623.78L338.13,623.28L339.21,622.79L340.28,622.30L341.36,621.80L342.44,621.30L343.52,620.80L344.59,620.31L345.67,619.81L346.75,619.31L347.82,618.81L348.90,618.31L349.97,617.80L351.05,617.30L352.12,616.80L353.20,616.30L354.28,615.80L355.35,615.30L356.43,614.80L357.51,614.30L358.58,613.80L359.66,613.30L360.74,612.80L361.82,612.31L362.89,611.81L363.97,611.32L365.05,610.82L366.13,610.33L367.21,609.84L368.29,609.35L369.38,608.86L370.46,608.37L371.54,607.88L372.62,607.40L373.71,606.91L374.79,606.43L375.88,605.94L376.96,605.46L378.05,604.98L379.13,604.51L380.22,604.03L381.31,603.55L382.40,603.08L383.49,602.61L384.58,602.14L385.67,601.67L386.76,601.20L387.85,600.73L388.94,600.27L390.03,599.81L391.13,599.35L392.22,598.89L393.32,598.43L394.41,597.98L395.51,597.52L396.61,597.07L397.71,596.63L398.81,596.18L399.91,595.73L401.01,595.29L402.11,594.85L403.21,594.41L404.32,593.98L405.42,593.54L406.53,593.11L407.63,592.68L408.74,592.25L409.85,591.83L410.96,591.41L412.07,590.99L413.18,590.57L414.29,590.15L415.40,589.74L416.52,589.33L417.63,588.93L418.75,588.52L419.86,588.12L420.98,587.72L422.10,587.32L423.22,586.93L424.34,586.54L425.46,586.15L426.59,585.77L427.71,585.38L428.84,585.01L429.96,584.63L431.09,584.25L432.22,583.88L433.35,583.51L434.48,583.15L435.61,582.79L436.74,582.43L437.87,582.07L439.00,581.71L440.14,581.36L441.27,581.01L442.41,580.67L443.55,580.32L444.69,579.98L445.82,579.65L446.96,579.31L448.10,578.98L449.25,578.65L450.39,578.33L451.53,578.00L452.67,577.69L453.82,577.37L454.96,577.05L456.11,576.74L457.26,576.44L458.41,576.13L459.55,575.83L460.70,575.53L461.85,575.23L463.00,574.94L464.16,574.65L465.31,574.36L466.46,574.08L467.62,573.80L468.77,573.52L469.92,573.24L471.08,572.97L472.24,572.70L473.39,572.44L474.55,572.17L475.71,571.91L476.87,571.66L478.03,571.40L479.19,571.15L480.35,570.90L481.51,570.66L482.68,570.42L483.84,570.18L485.00,569.94L486.17,569.71L487.33,569.48L488.50,569.26L489.66,569.03L490.83,568.81L492.00,568.60L493.16,568.38L494.33,568.17L495.50,567.97L496.67,567.76L497.84,567.56L499.01,567.37L500.18,567.17L501.35,566.98L502.52,566.79L503.70,566.61L504.87,566.43L506.04,566.25L507.22,566.07L508.39,565.90L509.56,565.73L510.74,565.57L511.91,565.40L513.09,565.24L514.27,565.09L515.44,564.93L516.62,564.78L517.80,564.64L518.97,564.49L520.15,564.35L521.33,564.21L522.51,564.08L523.69,563.95L524.87,563.82L526.05,563.69L527.23,563.57L528.41,563.44L529.59,563.33L530.77,563.21L531.95,563.10L533.13,562.99L534.32,562.88L535.50,562.78L536.68,562.68L537.86,562.58L539.05,562.49L540.23,562.40L541.41,562.31L542.60,562.22L543.78,562.14L544.97,562.05L546.15,561.98L547.34,561.90L548.52,561.83L549.71,561.76L550.89,561.69L552.08,561.62L553.26,561.56L554.45,561.50L555.64,561.44L556.82,561.39L558.01,561.34L559.19,561.29L560.38,561.24L561.57,561.20L562.76,561.16L563.94,561.12L565.13,561.08L566.32,561.05L567.50,561.02L568.69,560.99L569.88,560.96L571.07,560.94L572.25,560.91L573.44,560.89L574.63,560.88L575.82,560.86L577.00,560.85L578.19,560.84L579.38,560.83L580.57,560.83L581.75,560.83L582.94,560.83L584.13,560.83L585.32,560.83L586.51,560.84L587.69,560.85L588.88,560.86L590.07,560.87L591.26,560.89L592.44,560.91L593.63,560.93L594.82,560.95L596.01,560.98L597.19,561.00L598.38,561.03L599.57,561.06L600.75,561.10L601.94,561.13L603.13,561.17L604.31,561.21L605.50,561.25L606.69,561.29L607.87,561.34L609.06,561.39L610.24,561.44L611.43,561.49L612.61,561.54L613.80,561.60L614.98,561.66L616.17,561.72L617.36,561.78L618.54,561.84L619.72,561.91L620.91,561.98L622.09,562.05L623.28,562.12L624.46,562.19L625.65,562.27L626.83,562.35L628.02,562.43L629.20,562.51L630.38,562.59L631.57,562.67L632.75,562.76L633.93,562.85L635.12,562.94L636.30,563.03L637.48,563.13L638.66,563.22L639.85,563.32L641.03,563.42L642.21,563.52L643.39,563.62L644.58,563.72L645.76,563.83L646.94,563.94L648.12,564.05L649.30,564.16L650.48,564.27L651.67,564.38L652.85,564.50L654.03,564.62L655.21,564.73L656.39,564.85L657.57,564.98L658.75,565.10L659.93,565.22L661.11,565.35L662.29,565.48L663.47,565.61L664.65,565.74L665.83,565.87L667.01,566.01L668.19,566.14L669.37,566.28L670.55,566.41L671.73,566.55L672.91,566.70L674.08,566.84L675.26,566.98L676.44,567.13L677.62,567.27L678.80,567.42L679.97,567.57L681.15,567.72L682.33,567.87L683.51,568.02L684.68,568.18L685.86,568.33L687.04,568.49L688.22,568.65L689.39,568.81L690.57,568.97L691.75,569.13L692.92,569.29L694.10,569.45L695.27,569.62L696.45,569.79L697.62,569.95L698.80,570.12L699.98,570.29L701.15,570.46L702.33,570.63L703.50,570.81L704.68,570.98L705.85,571.15L707.02,571.33L708.20,571.51L709.37,571.68L710.55,571.86L711.72,572.04L712.89,572.22L714.07,572.41L715.24,572.59L716.41,572.77L717.59,572.96L718.76,573.14L719.93,573.33L721.10,573.52L722.28,573.70L723.45,573.89L724.62,574.08L725.79,574.27L726.96,574.47L728.14,574.66L729.31,574.85L730.48,575.05L731.65,575.24L732.82,575.44L733.99,575.63L735.16,575.83L736.33,576.03L737.50,576.23L738.67,576.43L739.84,576.63L741.01,576.83L742.18,577.03L743.35,577.24L744.52,577.44L745.69,577.64L746.86,577.85L748.03,578.06L749.20,578.26L750.37,578.47L751.53,578.68L752.70,578.89L753.87,579.10L755.04,579.31L756.21,579.52L757.37,579.73L758.54,579.95L759.71,580.16L760.88,580.37L762.04,580.59L763.21,580.80L764.38,581.02L765.55,581.24L766.71,581.46L767.88,581.67L769.05,581.89L770.21,582.11L771.38,582.33L772.54,582.55L773.71,582.78L774.88,583.00L776.04,583.22L777.21,583.45L778.37,583.67L779.54,583.89L780.70,584.12L781.87,584.35L783.03,584.57L784.20,584.80L785.36,585.03L786.53,585.26L787.69,585.49L788.86,585.72L790.02,585.95L791.19,586.18L792.35,586.41L793.52,586.64L794.68,586.87L795.84,587.11L797.01,587.34L798.17,587.57L799.33,587.81L800.50,588.04L801.66,588.28L802.83,588.51L803.99,588.75L805.15,588.99L806.31,589.23L807.48,589.47L808.64,589.70L809.80,589.94L810.97,590.18L812.13,590.42L813.29,590.66L814.45,590.91L815.61,591.15L816.78,591.39L817.94,591.63L819.10,591.87L820.26,592.12L821.42,592.36L822.59,592.61L823.75,592.85L824.91,593.10L826.07,593.34L827.23,593.59L828.39,593.83L829.56,594.08L830.72,594.33L831.88,594.58L833.04,594.82L834.20,595.07L835.36,595.32L836.52,595.57L837.68,595.82L838.84,596.07L840.00,596.32L841.16,596.57L842.32,596.82L843.48,597.07L844.64,597.32L845.80,597.57L846.96,597.83L848.12,598.08L849.28,598.33L850.44,598.58L851.60,598.84L852.76,599.09L853.92,599.35L855.08,599.60L856.24,599.85L857.40,600.11L858.56,600.36L859.72,600.62L860.88,600.88L862.04,601.13L863.20,601.39L864.36,601.64L865.52,601.90L866.68,602.16L867.84,602.41L869.00,602.67L870.15,602.93L871.31,603.19L872.47,603.44L873.63,603.70L874.79,603.96L875.95,604.22L877.11,604.48L878.27,604.74L879.42,605.00L880.58,605.25L881.74,605.51L882.90,605.77L884.06,606.03L885.22,606.29L886.38,606.55L887.53,606.81L888.69,607.07L889.85,607.33L891.01,607.59L892.17,607.85L893.32,608.12L894.48,608.38L895.64,608.64L896.80,608.90L897.96,609.16L899.11,609.42L900.27,609.68L901.43,609.95L902.59,610.21L903.75,610.47L904.90,610.73L906.06,611.00L907.22,611.26L908.38,611.52L909.53,611.78L910.69,612.05L911.85,612.31L913.01,612.57L914.17,612.84L915.32,613.10L916.48,613.36L917.64,613.63L918.80,613.89L919.95,614.15L921.11,614.42L922.27,614.68L923.42,614.95L924.58,615.21L925.74,615.48L926.90,615.74L928.05,616.00L929.21,616.27L930.37,616.53L931.53,616.80L932.68,617.06L933.84,617.33L935.00,617.59L936.15,617.86L937.31,618.12L938.47,618.39L939.62,618.66L940.78,618.92L941.94,619.19L943.10,619.45L944.25,619.72L945.41,619.98L946.57,620.25L947.72,620.52L948.88,620.78L950.04,621.05L951.19,621.32L952.35,621.58L953.51,621.85L954.66,622.11L955.82,622.38L956.98,622.65L958.13,622.91L959.29,623.18L960.45,623.45L961.60,623.71L962.76,623.98L963.92,624.25L965.07,624.52L966.23,624.78L967.39,625.05L968.54,625.32L969.70,625.58L970.86,625.85L972.01,626.12L973.17,626.39L974.33,626.65L975.48,626.92L976.64,627.19L977.80,627.45L978.95,627.72L980.11,627.99L981.27,628.26L982.42,628.52L983.58,628.79L984.74,629.06L985.89,629.33L987.05,629.59L988.21,629.86L989.36,630.13L990.52,630.40L991.68,630.66L992.83,630.93L993.99,631.20L995.14,631.47L996.30,631.73L997.46,632.00L998.61,632.27L999.77,632.54L1000.93,632.81L1002.08,633.07L1003.24,633.34L1004.40,633.61L1005.55,633.88L1006.71,634.14L1007.87,634.41L1009.02,634.68L1010.18,634.95L1011.34,635.21L1012.49,635.48L1013.65,635.75L1014.81,636.02L1015.96,636.28L1017.12,636.55L1018.28,636.82L1019.43,637.09L1020.59,637.35L1021.74,637.62L1022.90,637.89L1024.06,638.15L1025.21,638.42L1026.37,638.69L1027.53,638.96L1028.68,639.22L1029.84,639.49L1031.00,639.76L1032.15,640.02L1033.31,640.29L1034.47,640.56L1035.62,640.82L1036.78,641.09L1037.94,641.36L1039.09,641.62L1040.25,641.89L1041.41,642.16L1042.56,642.42L1043.72,642.69L1044.88,642.96L1046.04,643.22L1047.19,643.49L1048.35,643.75L1049.51,644.02L1050.66,644.29L1051.82,644.55L1052.98,644.82L1054.13,645.08L1055.29,645.35L1056.45,645.61L1057.60,645.88L1058.76,646.14L1059.92,646.41L1061.08,646.68L1062.23,646.94L1063.39,647.21L1064.55,647.47L1065.70,647.73L1066.86,648.00L1068.02,648.26L1069.18,648.53L1070.33,648.79L1071.49,649.06L1072.65,649.32L1073.81,649.59L1074.96,649.85L1076.12,650.11L1077.28,650.38L1078.43,650.64L1079.59,650.90L1080.75,651.17L1081.91,651.43L1083.06,651.69L1084.22,651.96L1085.38,652.22L1086.54,652.48L1087.70,652.74L1088.85,653.01L1090.01,653.27L1091.17,653.53L1092.33,653.79L1093.48,654.06L1094.64,654.32L1095.80,654.58L1096.96,654.84L1098.12,655.10L1099.27,655.36L1100.43,655.63L1101.59,655.89L1102.75,656.15L1103.91,656.41L1105.06,656.67L1106.22,656.93L1107.38,657.19L1108.54,657.45L1109.70,657.71L1110.86,657.97L1112.01,658.23L1113.17,658.49L1114.33,658.75L1115.49,659.01L1116.65,659.27L1117.81,659.53L1118.96,659.79L1120.12,660.05L1121.28,660.31L1122.44,660.57L1123.60,660.82L1124.76,661.08L1125.92,661.34L1127.07,661.60L1128.23,661.86L1129.39,662.12L1130.55,662.37L1131.71,662.63L1132.87,662.89L1134.03,663.15L1135.19,663.40L1136.35,663.66L1137.50,663.92L1138.66,664.17L1139.82,664.43L1140.98,664.69L1142.14,664.94L1143.30,665.20L1144.46,665.45L1145.62,665.71L1146.78,665.97L1147.94,666.22L1149.10,666.48L1150.26,666.73L1151.42,666.99L1152.57,667.24L1153.73,667.50L1154.89,667.75L1156.05,668.01L1157.21,668.26L1158.37,668.52L1159.53,668.77L1160.69,669.02L1161.85,669.28L1163.01,669.53L1164.17,669.78L1165.33,670.04L1166.49,670.29L1167.65,670.54L1168.81,670.80L1169.97,671.05L1171.13,671.30L1172.29,671.55L1173.45,671.80L1174.61,672.06L1175.77,672.31L1176.93,672.56L1178.09,672.81L1179.25,673.06L1180.41,673.31L1181.57,673.57L1182.73,673.82L1183.89,674.07L1185.05,674.32L1186.21,674.57L1187.37,674.82L1188.53,675.07L1189.69,675.32L1190.86,675.57L1192.02,675.82L1193.18,676.07L1194.34,676.31L1195.50,676.56L1196.66,676.81L1197.82,677.06L1198.98,677.31L1200.14,677.56L1201.30,677.80L1202.46,678.05L1203.62,678.30L1204.79,678.55L1205.95,678.80L1207.11,679.04L1208.27,679.29L1209.43,679.54L1210.59,679.78L1211.75,680.03L1212.91,680.28L1214.08,680.52L1215.24,680.77L1216.40,681.01L1217.56,681.26L1218.72,681.50L1219.88,681.75L1221.04,681.99L1222.21,682.24L1223.37,682.48L1224.53,682.73L1225.69,682.97L1226.85,683.22L1228.01,683.46L1229.18,683.70L1230.34,683.95L1231.50,684.19L1232.66,684.43L1233.82,684.67L1234.99,684.92L1236.15,685.16L1237.31,685.40L1238.47,685.64L1239.63,685.89L1240.80,686.13L1241.96,686.37L1243.12,686.61L1244.28,686.85L1245.45,687.09L1246.61,687.33L1247.77,687.57L1248.93,687.81L1250.10,688.05L1251.26,688.29L1252.42,688.53L1253.58,688.77L1254.75,689.01L1255.91,689.25L1257.07,689.49L1258.24,689.73L1259.40,689.97L1260.56,690.21L1261.72,690.44L1262.89,690.68L1264.05,690.92L1265.21,691.16L1266.38,691.39L1267.54,691.63L1268.70,691.87L1269.87,692.10L1271.03,692.34L1272.19,692.58L1273.36,692.81L1274.52,693.05L1275.68,693.28L1276.85,693.52L1278.01,693.75L1279.17,693.99L1280.34,694.22L1281.50,694.46L1282.67,694.69L1283.83,694.93L1284.99,695.16L1286.16,695.39L1287.32,695.63L1288.48,695.86L1289.65,696.09L1290.81,696.32L1291.98,696.56L1293.14,696.79L1294.30,697.02L1295.47,697.25L1296.63,697.48L1297.80,697.72L1298.96,697.95L1300.13,698.18L1301.29,698.41L1302.46,698.64L1303.62,698.87L1304.78,699.10L1305.95,699.33L1307.11,699.56L1308.28,699.79L1309.44,700.02L1310.61,700.25L1311.77,700.47L1312.94,700.70L1314.10,700.93L1315.27,701.16L1316.43,701.39L1317.60,701.61L1318.76,701.84L1319.93,702.07L1321.09,702.29L1322.26,702.52L1323.42,702.75L1324.59,702.97L1325.75,703.20L1326.92,703.42L1328.09,703.65L1329.25,703.87L1330.42,704.10L1331.58,704.32L1332.75,704.55L1333.91,704.77L1335.08,705.00L1336.25,705.22L1337.41,705.44L1338.58,705.67L1339.74,705.89L1340.91,706.11L1342.08,706.33L1343.24,706.56L1344.41,706.78L1345.57,707.00L1346.74,707.22L1347.91,707.44L1349.07,707.66L1350.24,707.88L1351.41,708.11L1352.57,708.33L1353.74,708.55L1354.90,708.77L1356.07,708.98L1357.24,709.20L1358.40,709.42L1359.57,709.64L1360.74,709.86L1361.90,710.08L1363.07,710.30L1364.24,710.52L1365.41,710.73L1366.57,710.95L1367.74,711.17L1368.91,711.39L1370.07,711.60L1371.24,711.82L1372.41,712.04L1373.58,712.25L1374.74,712.47L1375.91,712.68L1377.08,712.90L1378.24,713.11L1379.41,713.33L1380.58,713.54L1381.75,713.76L1382.91,713.97L1384.08,714.19L1385.25,714.40L1386.42,714.62L1387.58,714.83L1388.75,715.04L1389.92,715.26L1391.09,715.47L1392.26,715.68L1393.42,715.89L1394.59,716.11L1395.76,716.32L1396.93,716.53L1398.10,716.74L1399.26,716.95L1400.43,717.16L1401.60,717.38L1402.77,717.59L1403.94,717.80L1405.11,718.01L1406.27,718.22L1407.44,718.43L1408.61,718.64L1409.78,718.85L1410.95,719.06L1412.12,719.26L1413.28,719.47L1414.45,719.68L1415.62,719.89L1416.79,720.10L1417.96,720.31L1419.13,720.52L1420.30,720.72L1421.47,720.93L1422.63,721.14L1423.80,721.34L1424.97,721.55L1426.14,721.76L1427.31,721.96L1428.48,722.17L1429.65,722.38L1430.82,722.58L1431.99,722.79L1433.16,722.99L1434.33,723.20L1435.49,723.40L1436.66,723.61L1437.83,723.81L1439.00,724.02L1440.17,724.22L1441.34,724.43L1442.51,724.63L1443.68,724.83L1444.85,725.04L1446.02,725.24L1447.19,725.44L1448.36,725.65L1449.53,725.85L1450.70,726.05L1451.87,726.25L1453.04,726.46L1454.21,726.66L1455.38,726.86L1456.55,727.06L1457.72,727.26L1458.89,727.46L1460.06,727.67L1461.23,727.87L1462.40,728.07L1463.57,728.27L1464.74,728.47L1465.91,728.67L1467.08,728.87L1468.25,729.07L1469.42,729.27L1470.59,729.47L1471.76,729.67L1472.93,729.86L1474.10,730.06L1475.27,730.26L1476.44,730.46L1477.61,730.66L1478.78,730.86L1479.95,731.05L1481.12,731.25L1482.29,731.45L1483.46,731.65L1484.63,731.84L1485.81,732.04L1486.98,732.24L1488.15,732.43L1489.32,732.63L1490.49,732.83L1491.66,733.02L1492.83,733.22L1494.00,733.42L1495.17,733.61L1496.34,733.81L1497.51,734.00L1498.68,734.20L1499.86,734.39L1501.03,734.59L1502.20,734.78L1503.37,734.98L1504.54,735.17L1505.71,735.36L1506.88,735.56L1508.05,735.75L1509.22,735.94L1510.40,736.14L1511.57,736.33L1512.74,736.52L1513.91,736.72L1515.08,736.91L1516.25,737.10L1517.42,737.29L1518.60,737.49L1519.77,737.68L1520.94,737.87L1522.11,738.06L1523.28,738.25L1524.45,738.45L1525.62,738.64L1526.80,738.83L1527.97,739.02L1529.14,739.21L1530.31,739.40L1531.48,739.59L1532.65,739.78L1533.83,739.97L1535.00,740.16L1536.17,740.35L1537.34,740.54L1538.51,740.73L1539.69,740.92L1540.86,741.11L1542.03,741.30L1543.20,741.49L1544.37,741.68L1545.55,741.86L1546.72,742.05L1547.89,742.24L1549.06,742.43L1550.23,742.62L1551.41,742.80L1552.58,742.99L1553.75,743.18L1554.92,743.37L1556.10,743.55L1557.27,743.74L1558.44,743.93L1559.61,744.12L1560.78,744.30L1561.96,744.49L1563.13,744.67L1564.30,744.86L1565.47,745.05L1566.65,745.23L1567.82,745.42L1568.99,745.60L1570.16,745.79L1571.34,745.97L1572.51,746.16L1573.68,746.35L1574.85,746.53L1576.03,746.71L1577.20,746.90L1578.37,747.08L1579.54,747.27L1580.72,747.45L1581.89,747.64L1583.06,747.82L1584.24,748.00L1585.41,748.19L1586.58,748.37L1587.75,748.55L1588.93,748.74L1590.10,748.92L1591.27,749.10L1592.44,749.29L1593.62,749.47L1594.79,749.65L1595.96,749.83L1597.14,750.02L1598.31,750.20L1599.48,750.38L1600.66,750.56L1601.83,750.74L1603.00,750.93"/>
<path stroke="#0000ff" d="M157.90,1128.00L158.60,1127.30L158.83,1126.11L159.05,1124.92L159.26,1123.72L159.45,1122.53L159.63,1121.33L159.80,1120.13L159.96,1118.93L160.11,1117.73L160.25,1116.53L160.38,1115.33L160.51,1114.13L160.62,1112.92L160.74,1111.72L160.84,1110.51L160.95,1109.30L161.05,1108.10L161.14,1106.89L161.24,1105.68L161.33,1104.48L161.42,1103.27L161.51,1102.06L161.60,1100.85L161.69,1099.65L161.78,1098.44L161.87,1097.23L161.96,1096.02L162.04,1094.82L162.13,1093.61L162.21,1092.40L162.30,1091.19L162.38,1089.99L162.47,1088.78L162.55,1087.57L162.63,1086.36L162.71,1085.16L162.79,1083.95L162.88,1082.74L162.96,1081.53L163.03,1080.33L163.11,1079.12L163.19,1077.91L163.27,1076.70L163.35,1075.49L163.42,1074.29L163.50,1073.08L163.58,1071.87L163.65,1070.66L163.73,1069.45L163.80,1068.25L163.88,1067.04L163.95,1065.83L164.02,1064.62L164.10,1063.41L164.17,1062.21L164.24,1061.00L164.32,1059.79L164.39,1058.58L164.46,1057.37L164.53,1056.16L164.60,1054.96L164.67,1053.75L164.75,1052.54L164.82,1051.33L164.89,1050.12L164.96,1048.91L165.03,1047.71L165.10,1046.50L165.17,1045.29L165.24,1044.08L165.31,1042.87L165.38,1041.66L165.45,1040.46L165.52,1039.25L165.59,1038.04L165.66,1036.83L165.72,1035.62L165.79,1034.41L165.86,1033.20L165.93,1032.00L166.00,1030.79L166.07,1029.58L166.14,1028.37L166.20,1027.16L166.27,1025.95L166.34,1024.74L166.41,1023.54L166.48,1022.33L166.54,1021.12L166.61,1019.91L166.68,1018.70L166.75,1017.49L166.82,1016.28L166.88,1015.08L166.95,1013.87L167.02,1012.66L167.09,1011.45L167.15,1010.24L167.22,1009.03L167.29,1007.82L167.36,1006.61L167.42,1005.41L167.49,1004.20L167.56,1002.99L167.63,1001.78L167.69,1000.57L167.76,999.36L167.83,998.15L167.90,996.95L167.96,995.74L168.03,994.53L168.10,993.32L168.16,992.11L168.23,990.90L168.30,989.69L168.37,988.48L168.44,987.28L168.50,986.07L168.57,984.86L168.64,983.65L168.71,982.44L168.77,981.23L168.84,980.02L168.91,978.82L168.98,977.61L169.05,976.40L169.11,975.19L169.18,973.98L169.25,972.77L169.32,971.56L169.39,970.36L169.46,969.15L169.53,967.94L169.59,966.73L169.66,965.52L169.73,964.31L169.80,963.10L169.87,961.90L169.94,960.69L170.01,959.48L170.08,958.27L170.15,957.06L170.22,955.85L170.29,954.65L170.36,953.44L170.43,952.23L170.50,951.02L170.57,949.81L170.64,948.60L170.72,947.40L170.79,946.19L170.86,944.98L170.93,943.77L171.00,942.56L171.07,941.35L171.15,940.15L171.22,938.94L171.29,937.73L171.36,936.52L171.44,935.31L171.51,934.11L171.58,932.90L171.66,931.69L171.73,930.48L171.80,929.27L171.88,928.06L171.95,926.86L172.03,925.65L172.10,924.44L172.17,923.23L172.25,922.02L172.32,920.82L172.40,919.61L172.47,918.40L172.55,917.19L172.63,915.98L172.70,914.78L172.78,913.57L172.86,912.36L172.93,911.15L173.01,909.94L173.09,908.74L173.16,907.53L173.24,906.32L173.32,905.11L173.40,903.91L173.48,902.70L173.55,901.49L173.63,900.28L173.71,899.07L173.79,897.87L173.87,896.66L173.95,895.45L174.03,894.24L174.11,893.04L174.19,891.83L174.27,890.62L174.35,889.41L174.43,888.20L174.52,887.00L174.60,885.79L174.68,884.58L174.76,883.37L174.84,882.17L174.93,880.96L175.01,879.75L175.09,878.54L175.18,877.33L175.26,876.13L175.35,874.92L175.43,873.71L175.52,872.50L175.60,871.30L175.69,870.09L175.77,868.88L175.86,867.67L175.94,866.47L176.03,865.26L176.12,864.05L176.20,862.84L176.29,861.64L176.38,860.43L176.47,859.22L176.56,858.01L176.64,856.81L176.73,855.60L176.82,854.39L176.91,853.18L177.00,851.98L177.10,850.77L177.19,849.56L177.28,848.35L177.37,847.15L177.46,845.94L177.56,844.73L177.65,843.53L177.74,842.32L177.84,841.11L177.93,839.90L178.03,838.70L178.12,837.49L178.22,836.28L178.31,835.08L178.41,833.87L178.51,832.66L178.61,831.46L178.71,830.25L178.80,829.04L178.90,827.84L179.00,826.63L179.11,825.42L179.21,824.22L179.31,823.01L179.41,821.81L179.51,820.60L179.62,819.39L179.72,818.19L179.83,816.98L179.93,815.78L180.04,814.57L180.14,813.37L180.25,812.16L180.36,810.95L180.47,809.75L180.58,808.54L180.68,807.34L180.80,806.13L180.91,804.93L181.02,803.72L181.13,802.52L181.24,801.31L181.36,800.11L181.47,798.91L181.59,797.70L181.70,796.50L181.82,795.29L181.94,794.09L182.05,792.88L182.17,791.68L182.29,790.48L182.41,789.27L182.53,788.07L182.65,786.87L182.78,785.66L182.90,784.46L183.03,783.25L183.15,782.05L183.28,780.85L183.40,779.64L183.53,778.44L183.66,777.24L183.79,776.04L183.92,774.83L184.05,773.63L184.18,772.43L184.32,771.22L184.45,770.02L184.59,768.82L184.72,767.62L184.86,766.41L185.00,765.21L185.14,764.01L185.28,762.81L185.42,761.60L185.56,760.40L185.71,759.20L185.85,758.00L186.00,756.79L186.15,755.59L186.29,754.39L186.44,753.19L186.59,751.98L186.74,750.78L186.90,749.58L187.05,748.38L187.21,747.17L187.36,745.97L187.52,744.77L187.68,743.57L187.84,742.37L188.00,741.17L188.17,739.96L188.34,738.76L188.50,737.56L188.68,736.36L188.85,735.16L189.02,733.96L189.20,732.77L189.38,731.57L189.56,730.37L189.75,729.17L189.94,727.98L190.13,726.78L190.32,725.59L190.52,724.40L190.72,723.20L190.92,722.01L191.12,720.82L191.33,719.63L191.54,718.44L191.76,717.25L191.98,716.07L192.20,714.88L192.43,713.70L192.66,712.51L192.89,711.33L193.13,710.15L193.36,708.97L193.60,707.78L193.85,706.60L194.09,705.42L194.33,704.24L194.58,703.05L194.82,701.87L195.07,700.68L195.31,699.49L195.56,698.31L195.80,697.12L196.05,695.93L196.30,694.74L196.55,693.54L196.80,692.35L197.06,691.16L197.32,689.98L197.59,688.79L197.86,687.60L198.14,686.42L198.42,685.23L198.71,684.05L199.01,682.88L199.31,681.70L199.63,680.53L199.95,679.36L200.28,678.20L200.63,677.04L200.98,675.88L201.35,674.73L201.72,673.58L202.11,672.44L202.52,671.30L202.93,670.17L203.36,669.05L203.81,667.93L204.27,666.82L204.74,665.71L205.24,664.62L205.75,663.53L206.27,662.44L206.81,661.37L207.38,660.30L207.95,659.25L208.55,658.20L209.16,657.17L209.79,656.14L210.44,655.12L211.11,654.12L211.79,653.13L212.50,652.15L213.22,651.18L213.96,650.22L214.73,649.28L215.51,648.35L216.31,647.44L217.13,646.54L217.97,645.65L218.83,644.78L219.70,643.93L220.60,643.09L221.51,642.27L222.44,641.47L223.38,640.69L224.34,639.92L225.32,639.18L226.31,638.46L227.31,637.76L228.33,637.08L229.36,636.42L230.40,635.79L231.45,635.18L232.51,634.60L233.58,634.04L234.66,633.50L235.75,632.98L236.85,632.48L237.95,631.99L239.06,631.52L240.18,631.06L241.30,630.61L242.42,630.17L243.55,629.74L244.67,629.31L245.80,628.89L246.93,628.46L248.06,628.04L249.19,627.61L250.32,627.18L251.44,626.74L252.56,626.30L253.68,625.85L254.80,625.39L255.92,624.93L257.03,624.47L258.14,624.00L259.25,623.52L260.36,623.04L261.47,622.56L262.57,622.07L263.68,621.58L264.78,621.08L265.88,620.58L266.98,620.08L268.08,619.57L269.18,619.06L270.28,618.55L271.38,618.04L272.47,617.52L273.57,616.99L274.66,616.47L275.76,615.94L276.85,615.40L277.94,614.87L279.02,614.32L280.11,613.78L281.19,613.23L282.27,612.67L283.35,612.11L284.42,611.54L285.49,610.97L286.56,610.39L287.63,609.81L288.69,609.22L289.74,608.63L290.80,608.03L291.84,607.42L292.89,606.80L293.93,606.18L294.96,605.56L295.99,604.92L297.02,604.28L298.04,603.64L299.06,602.99L300.08,602.33L301.09,601.68L302.10,601.01L303.11,600.35L304.11,599.68L305.12,599.00L306.12,598.33L307.12,597.65L308.12,596.97L309.11,596.28L310.11,595.60L311.10,594.91L312.10,594.22L313.09,593.53L314.09,592.84L315.08,592.16L316.07,591.47L317.07,590.78L318.06,590.09L319.06,589.40L320.05,588.71L321.05,588.03L322.05,587.35L323.05,586.66L324.05,585.98L325.05,585.31L326.05,584.63L327.05,583.95L328.06,583.28L329.06,582.60L330.07,581.93L331.08,581.26L332.09,580.59L333.10,579.92L334.11,579.25L335.12,578.59L336.13,577.92L337.14,577.26L338.15,576.60L339.17,575.94L340.18,575.28L341.20,574.62L342.22,573.96L343.23,573.30L344.25,572.64L345.27,571.99L346.29,571.34L347.31,570.68L348.33,570.03L349.35,569.38L350.37,568.73L351.39,568.08L352.41,567.43L353.44,566.78L354.46,566.13L355.48,565.49L356.51,564.84L357.53,564.19L358.56,563.55L359.58,562.91L360.61,562.26L361.64,561.62L362.66,560.98L363.69,560.34L364.72,559.70L365.74,559.06L366.77,558.42L367.80,557.78L368.83,557.14L369.86,556.51L370.89,555.87L371.92,555.24L372.95,554.61L373.99,553.98L375.02,553.35L376.05,552.72L377.09,552.09L378.12,551.46L379.16,550.84L380.19,550.21L381.23,549.59L382.27,548.97L383.31,548.35L384.35,547.73L385.39,547.11L386.43,546.50L387.47,545.88L388.51,545.27L389.56,544.66L390.60,544.05L391.65,543.44L392.69,542.84L393.74,542.23L394.79,541.63L395.84,541.03L396.89,540.43L397.94,539.84L399.00,539.24L400.05,538.65L401.11,538.06L402.16,537.47L403.22,536.89L404.28,536.30L405.34,535.72L406.40,535.14L407.46,534.57L408.53,533.99L409.59,533.42L410.66,532.85L411.73,532.28L412.80,531.72L413.87,531.15L414.94,530.59L416.02,530.04L417.09,529.48L418.17,528.93L419.25,528.38L420.33,527.83L421.41,527.29L422.49,526.75L423.58,526.21L424.66,525.67L425.75,525.14L426.84,524.61L427.93,524.08L429.02,523.56L430.11,523.04L431.21,522.52L432.31,522.00L433.40,521.49L434.50,520.98L435.60,520.47L436.71,519.97L437.81,519.47L438.92,518.97L440.02,518.48L441.13,517.98L442.24,517.50L443.35,517.01L444.46,516.53L445.58,516.05L446.69,515.57L447.81,515.10L448.92,514.63L450.04,514.17L451.16,513.70L452.29,513.24L453.41,512.79L454.53,512.33L455.66,511.88L456.79,511.44L457.91,511.00L459.04,510.56L460.17,510.12L461.31,509.69L462.44,509.26L463.57,508.83L464.71,508.41L465.85,507.99L466.98,507.58L468.12,507.17L469.26,506.76L470.41,506.36L471.55,505.96L472.69,505.56L473.84,505.17L474.99,504.78L476.13,504.39L477.28,504.01L478.43,503.63L479.59,503.26L480.74,502.89L481.89,502.52L483.05,502.16L484.20,501.80L485.36,501.44L486.52,501.09L487.68,500.74L488.84,500.40L490.00,500.06L491.16,499.73L492.32,499.39L493.49,499.07L494.65,498.74L495.82,498.42L496.99,498.11L498.16,497.80L499.33,497.49L500.50,497.19L501.67,496.89L502.84,496.60L504.02,496.31L505.19,496.02L506.37,495.74L507.55,495.46L508.72,495.18L509.90,494.91L511.08,494.65L512.26,494.39L513.44,494.13L514.63,493.87L515.81,493.62L516.99,493.38L518.18,493.13L519.36,492.90L520.55,492.66L521.74,492.43L522.92,492.20L524.11,491.98L525.30,491.76L526.49,491.55L527.68,491.33L528.88,491.13L530.07,490.92L531.26,490.72L532.45,490.52L533.65,490.33L534.84,490.14L536.04,489.96L537.24,489.77L538.43,489.60L539.63,489.42L540.83,489.25L542.03,489.08L543.23,488.92L544.43,488.76L545.63,488.60L546.83,488.45L548.03,488.30L549.23,488.15L550.43,488.01L551.63,487.87L552.84,487.73L554.04,487.60L555.25,487.47L556.45,487.34L557.66,487.22L558.86,487.10L560.07,486.98L561.27,486.87L562.48,486.76L563.69,486.65L564.89,486.55L566.10,486.45L567.31,486.35L568.52,486.26L569.72,486.17L570.93,486.08L572.14,486.00L573.35,485.92L574.56,485.84L575.77,485.76L576.98,485.69L578.19,485.62L579.40,485.56L580.61,485.50L581.82,485.44L583.03,485.38L584.24,485.33L585.45,485.28L586.66,485.23L587.87,485.18L589.08,485.14L590.29,485.10L591.50,485.07L592.72,485.03L593.93,485.00L595.14,484.98L596.35,484.95L597.56,484.93L598.77,484.91L599.98,484.89L601.19,484.88L602.40,484.87L603.61,484.86L604.82,484.85L606.03,484.85L607.25,484.85L608.46,484.85L609.67,484.86L610.88,484.87L612.09,484.88L613.30,484.89L614.51,484.90L615.72,484.92L616.93,484.94L618.14,484.97L619.35,484.99L620.56,485.02L621.77,485.05L622.97,485.08L624.18,485.12L625.39,485.16L626.60,485.20L627.81,485.24L629.02,485.28L630.23,485.33L631.44,485.38L632.65,485.43L633.86,485.49L635.06,485.54L636.27,485.60L637.48,485.66L638.69,485.73L639.90,485.79L641.10,485.86L642.31,485.93L643.52,486.00L644.73,486.08L645.94,486.15L647.14,486.23L648.35,486.31L649.56,486.40L650.76,486.48L651.97,486.57L653.18,486.66L654.38,486.75L655.59,486.84L656.80,486.94L658.00,487.04L659.21,487.14L660.42,487.24L661.62,487.34L662.83,487.45L664.03,487.56L665.24,487.67L666.44,487.78L667.65,487.89L668.85,488.01L670.06,488.12L671.26,488.24L672.47,488.36L673.67,488.48L674.87,488.61L676.08,488.73L677.28,488.86L678.49,488.99L679.69,489.12L680.89,489.26L682.10,489.39L683.30,489.53L684.50,489.67L685.70,489.81L686.91,489.95L688.11,490.09L689.31,490.24L690.51,490.38L691.72,490.53L692.92,490.68L694.12,490.83L695.32,490.98L696.52,491.14L697.72,491.29L698.92,491.45L700.12,491.61L701.32,491.77L702.52,491.93L703.72,492.09L704.92,492.26L706.12,492.43L707.32,492.59L708.52,492.76L709.72,492.93L710.92,493.10L712.12,493.28L713.32,493.45L714.51,493.62L715.71,493.80L716.91,493.98L718.11,494.16L719.30,494.34L720.50,494.52L721.70,494.70L722.89,494.89L724.09,495.07L725.29,495.26L726.48,495.45L727.68,495.64L728.87,495.83L730.07,496.02L731.26,496.21L732.46,496.40L733.65,496.60L734.85,496.79L736.04,496.99L737.24,497.19L738.43,497.39L739.62,497.59L740.82,497.79L742.01,497.99L743.20,498.20L744.40,498.40L745.59,498.61L746.78,498.81L747.98,499.02L749.17,499.23L750.36,499.44L751.55,499.65L752.74,499.86L753.93,500.08L755.13,500.29L756.32,500.51L757.51,500.72L758.70,500.94L759.89,501.16L761.08,501.38L762.27,501.60L763.46,501.82L764.65,502.04L765.84,502.26L767.03,502.49L768.22,502.71L769.41,502.94L770.59,503.16L771.78,503.39L772.97,503.62L774.16,503.85L775.35,504.08L776.54,504.31L777.72,504.54L778.91,504.78L780.10,505.01L781.29,505.24L782.47,505.48L783.66,505.72L784.85,505.95L786.03,506.19L787.22,506.43L788.41,506.67L789.59,506.91L790.78,507.15L791.97,507.39L793.15,507.64L794.34,507.88L795.52,508.13L796.71,508.37L797.89,508.62L799.08,508.86L800.26,509.11L801.45,509.36L802.63,509.61L803.82,509.86L805.00,510.11L806.18,510.36L807.37,510.61L808.55,510.87L809.74,511.12L810.92,511.37L812.10,511.63L813.29,511.88L814.47,512.14L815.65,512.40L816.84,512.65L818.02,512.91L819.20,513.17L820.38,513.43L821.57,513.69L822.75,513.95L823.93,514.21L825.11,514.47L826.29,514.74L827.48,515.00L828.66,515.26L829.84,515.53L831.02,515.79L832.20,516.06L833.38,516.32L834.56,516.59L835.75,516.86L836.93,517.12L838.11,517.39L839.29,517.66L840.47,517.93L841.65,518.20L842.83,518.47L844.01,518.74L845.19,519.01L846.37,519.28L847.55,519.56L848.73,519.83L849.91,520.10L851.09,520.37L852.27,520.65L853.45,520.92L854.63,521.20L855.81,521.47L856.98,521.75L858.16,522.02L859.34,522.30L860.52,522.58L861.70,522.85L862.88,523.13L864.06,523.41L865.24,523.69L866.41,523.97L867.59,524.25L868.77,524.52L869.95,524.80L871.13,525.08L872.30,525.37L873.48,525.65L874.66,525.93L875.84,526.21L877.02,526.49L878.19,526.77L879.37,527.05L880.55,527.34L881.73,527.62L882.90,527.90L884.08,528.18L885.26,528.47L886.43,528.75L887.61,529.04L888.79,529.32L889.96,529.61L891.14,529.89L892.32,530.17L893.49,530.46L894.67,530.75L895.85,531.03L897.02,531.32L898.20,531.60L899.38,531.89L900.55,532.18L901.73,532.46L902.90,532.75L904.08,533.04L905.26,533.33L906.43,533.61L907.61,533.90L908.78,534.19L909.96,534.48L911.14,534.77L912.31,535.06L913.49,535.35L914.66,535.64L915.84,535.92L917.01,536.21L918.19,536.50L919.36,536.79L920.54,537.09L921.71,537.38L922.89,537.67L924.06,537.96L925.24,538.25L926.41,538.54L927.59,538.83L928.76,539.12L929.94,539.41L931.11,539.71L932.29,540.00L933.46,540.29L934.64,540.58L935.81,540.88L936.99,541.17L938.16,541.46L939.34,541.76L940.51,542.05L941.68,542.34L942.86,542.64L944.03,542.93L945.21,543.22L946.38,543.52L947.56,543.81L948.73,544.11L949.90,544.40L951.08,544.70L952.25,544.99L953.43,545.28L954.60,545.58L955.77,545.87L956.95,546.17L958.12,546.47L959.30,546.76L960.47,547.06L961.64,547.35L962.82,547.65L963.99,547.94L965.16,548.24L966.34,548.54L967.51,548.83L968.68,549.13L969.86,549.43L971.03,549.72L972.21,550.02L973.38,550.31L974.55,550.61L975.73,550.91L976.90,551.21L978.07,551.50L979.25,551.80L980.42,552.10L981.59,552.39L982.77,552.69L983.94,552.99L985.11,553.29L986.29,553.58L987.46,553.88L988.63,554.18L989.81,554.48L990.98,554.77L992.15,555.07L993.32,555.37L994.50,555.67L995.67,555.97L996.84,556.26L998.02,556.56L999.19,556.86L1000.36,557.16L1001.54,557.46L1002.71,557.75L1003.88,558.05L1005.06,558.35L1006.23,558.65L1007.40,558.95L1008.57,559.25L1009.75,559.54L1010.92,559.84L1012.09,560.14L1013.27,560.44L1014.44,560.74L1015.61,561.03L1016.79,561.33L1017.96,561.63L1019.13,561.93L1020.31,562.23L1021.48,562.53L1022.65,562.82L1023.82,563.12L1025.00,563.42L1026.17,563.72L1027.34,564.02L1028.52,564.32L1029.69,564.61L1030.86,564.91L1032.04,565.21L1033.21,565.51L1034.38,565.81L1035.56,566.10L1036.73,566.40L1037.90,566.70L1039.07,567.00L1040.25,567.30L1041.42,567.59L1042.59,567.89L1043.77,568.19L1044.94,568.49L1046.11,568.79L1047.29,569.08L1048.46,569.38L1049.63,569.68L1050.81,569.98L1051.98,570.27L1053.15,570.57L1054.33,570.87L1055.50,571.16L1056.67,571.46L1057.85,571.76L1059.02,572.05L1060.19,572.35L1061.37,572.65L1062.54,572.94L1063.71,573.24L1064.89,573.54L1066.06,573.83L1067.23,574.13L1068.41,574.43L1069.58,574.72L1070.76,575.02L1071.93,575.31L1073.10,575.61L1074.28,575.90L1075.45,576.20L1076.62,576.50L1077.80,576.79L1078.97,577.09L1080.15,577.38L1081.32,577.68L1082.49,577.97L1083.67,578.27L1084.84,578.56L1086.02,578.85L1087.19,579.15L1088.36,579.44L1089.54,579.74L1090.71,580.03L1091.89,580.32L1093.06,580.62L1094.24,580.91L1095.41,581.20L1096.58,581.50L1097.76,581.79L1098.93,582.08L1100.11,582.38L1101.28,582.67L1102.46,582.96L1103.63,583.25L1104.81,583.55L1105.98,583.84L1107.16,584.13L1108.33,584.42L1109.51,584.71L1110.68,585.00L1111.85,585.30L1113.03,585.59L1114.20,585.88L1115.38,586.17L1116.55,586.46L1117.73,586.75L1118.90,587.04L1120.08,587.33L1121.25,587.62L1122.43,587.91L1123.61,588.20L1124.78,588.49L1125.96,588.78L1127.13,589.07L1128.31,589.36L1129.48,589.65L1130.66,589.94L1131.83,590.23L1133.01,590.52L1134.18,590.81L1135.36,591.09L1136.54,591.38L1137.71,591.67L1138.89,591.96L1140.06,592.25L1141.24,592.53L1142.41,592.82L1143.59,593.11L1144.77,593.40L1145.94,593.68L1147.12,593.97L1148.29,594.26L1149.47,594.55L1150.65,594.83L1151.82,595.12L1153.00,595.40L1154.17,595.69L1155.35,595.98L1156.53,596.26L1157.70,596.55L1158.88,596.83L1160.06,597.12L1161.23,597.40L1162.41,597.69L1163.58,597.97L1164.76,598.26L1165.94,598.54L1167.11,598.83L1168.29,599.11L1169.47,599.40L1170.64,599.68L1171.82,599.97L1173.00,600.25L1174.17,600.53L1175.35,600.82L1176.53,601.10L1177.71,601.38L1178.88,601.67L1180.06,601.95L1181.24,602.23L1182.41,602.51L1183.59,602.80L1184.77,603.08L1185.95,603.36L1187.12,603.64L1188.30,603.92L1189.48,604.20L1190.65,604.49L1191.83,604.77L1193.01,605.05L1194.19,605.33L1195.36,605.61L1196.54,605.89L1197.72,606.17L1198.90,606.45L1200.07,606.73L1201.25,607.01L1202.43,607.29L1203.61,607.57L1204.79,607.85L1205.96,608.13L1207.14,608.41L1208.32,608.68L1209.50,608.96L1210.68,609.24L1211.85,609.52L1213.03,609.80L1214.21,610.08L1215.39,610.35L1216.57,610.63L1217.75,610.91L1218.92,611.19L1220.10,611.46L1221.28,611.74L1222.46,612.02L1223.64,612.29L1224.82,612.57L1225.99,612.85L1227.17,613.12L1228.35,613.40L1229.53,613.67L1230.71,613.95L1231.89,614.22L1233.07,614.50L1234.25,614.77L1235.42,615.05L1236.60,615.32L1237.78,615.60L1238.96,615.87L1240.14,616.15L1241.32,616.42L1242.50,616.69L1243.68,616.97L1244.86,617.24L1246.04,617.51L1247.22,617.79L1248.40,618.06L1249.57,618.33L1250.75,618.60L1251.93,618.88L1253.11,619.15L1254.29,619.42L1255.47,619.69L1256.65,619.96L1257.83,620.23L1259.01,620.50L1260.19,620.77L1261.37,621.05L1262.55,621.32L1263.73,621.59L1264.91,621.86L1266.09,622.13L1267.27,622.40L1268.45,622.67L1269.63,622.94L1270.81,623.20L1271.99,623.47L1273.17,623.74L1274.35,624.01L1275.53,624.28L1276.71,624.55L1277.89,624.81L1279.07,625.08L1280.25,625.35L1281.44,625.62L1282.62,625.88L1283.80,626.15L1284.98,626.42L1286.16,626.69L1287.34,626.95L1288.52,627.22L1289.70,627.48L1290.88,627.75L1292.06,628.02L1293.24,628.28L1294.42,628.55L1295.61,628.81L1296.79,629.08L1297.97,629.34L1299.15,629.60L1300.33,629.87L1301.51,630.13L1302.69,630.40L1303.87,630.66L1305.06,630.92L1306.24,631.19L1307.42,631.45L1308.60,631.71L1309.78,631.98L1310.96,632.24L1312.15,632.50L1313.33,632.76L1314.51,633.02L1315.69,633.29L1316.87,633.55L1318.06,633.81L1319.24,634.07L1320.42,634.33L1321.60,634.59L1322.78,634.85L1323.97,635.11L1325.15,635.37L1326.33,635.63L1327.51,635.89L1328.70,636.15L1329.88,636.41L1331.06,636.67L1332.24,636.93L1333.43,637.18L1334.61,637.44L1335.79,637.70L1336.97,637.96L1338.16,638.21L1339.34,638.47L1340.52,638.73L1341.70,638.99L1342.89,639.24L1344.07,639.50L1345.25,639.76L1346.44,640.01L1347.62,640.27L1348.80,640.52L1349.99,640.78L1351.17,641.03L1352.35,641.29L1353.54,641.54L1354.72,641.80L1355.90,642.05L1357.09,642.31L1358.27,642.56L1359.45,642.81L1360.64,643.07L1361.82,643.32L1363.00,643.57L1364.19,643.83L1365.37,644.08L1366.56,644.33L1367.74,644.58L1368.92,644.84L1370.11,645.09L1371.29,645.34L1372.48,645.59L1373.66,645.84L1374.84,646.09L1376.03,646.34L1377.21,646.59L1378.40,646.84L1379.58,647.09L1380.77,647.34L1381.95,647.59L1383.14,647.84L1384.32,648.09L1385.50,648.34L1386.69,648.59L1387.87,648.84L1389.06,649.09L1390.24,649.34L1391.43,649.58L1392.61,649.83L1393.80,650.08L1394.98,650.33L1396.17,650.57L1397.35,650.82L1398.54,651.07L1399.72,651.31L1400.91,651.56L1402.09,651.81L1403.28,652.05L1404.46,652.30L1405.65,652.54L1406.83,652.79L1408.02,653.03L1409.21,653.28L1410.39,653.52L1411.58,653.77L1412.76,654.01L1413.95,654.25L1415.13,654.50L1416.32,654.74L1417.50,654.98L1418.69,655.23L1419.88,655.47L1421.06,655.71L1422.25,655.95L1423.43,656.20L1424.62,656.44L1425.81,656.68L1426.99,656.92L1428.18,657.16L1429.36,657.40L1430.55,657.65L1431.74,657.89L1432.92,658.13L1434.11,658.37L1435.30,658.61L1436.48,658.85L1437.67,659.09L1438.86,659.33L1440.04,659.56L1441.23,659.80L1442.42,660.04L1443.60,660.28L1444.79,660.52L1445.98,660.76L1447.16,661.00L1448.35,661.23L1449.54,661.47L1450.72,661.71L1451.91,661.94L1453.10,662.18L1454.29,662.42L1455.47,662.65L1456.66,662.89L1457.85,663.13L1459.03,663.36L1460.22,663.60L1461.41,663.83L1462.60,664.07L1463.78,664.30L1464.97,664.54L1466.16,664.77L1467.35,665.01L1468.53,665.24L1469.72,665.47L1470.91,665.71L1472.10,665.94L1473.29,666.17L1474.47,666.41L1475.66,666.64L1476.85,666.87L1478.04,667.10L1479.22,667.34L1480.41,667.57L1481.60,667.80L1482.79,668.03L1483.98,668.26L1485.17,668.49L1486.35,668.72L1487.54,668.95L1488.73,669.18L1489.92,669.42L1491.11,669.64L1492.30,669.87L1493.48,670.10L1494.67,670.33L1495.86,670.56L1497.05,670.79L1498.24,671.02L1499.43,671.25L1500.62,671.48L1501.80,671.70L1502.99,671.93L1504.18,672.16L1505.37,672.39L1506.56,672.61L1507.75,672.84L1508.94,673.07L1510.13,673.29L1511.32,673.52L1512.51,673.75L1513.70,673.97L1514.88,674.20L1516.07,674.42L1517.26,674.65L1518.45,674.87L1519.64,675.10L1520.83,675.32L1522.02,675.55L1523.21,675.77L1524.40,675.99L1525.59,676.22L1526.78,676.44L1527.97,676.67L1529.16,676.89L1530.35,677.11L1531.54,677.33L1532.73,677.56L1533.92,677.78L1535.11,678.00L1536.30,678.22L1537.49,678.44L1538.68,678.66L1539.87,678.89L1541.06,679.11L1542.25,679.33L1543.44,679.55L1544.63,679.77L1545.82,679.99L1547.01,680.21L1548.20,680.43L1549.39,680.65L1550.58,680.87L1551.77,681.08L1552.96,681.30L1554.15,681.52L1555.34,681.74L1556.53,681.96L1557.73,682.18L1558.92,682.39L1560.11,682.61L1561.30,682.83L1562.49,683.04L1563.68,683.26L1564.87,683.48L1566.06,683.69L1567.25,683.91L1568.44,684.13L1569.63,684.34L1570.83,684.56L1572.02,684.77L1573.21,684.99L1574.40,685.20L1575.59,685.42L1576.78,685.63L1577.97,685.84L1579.16,686.06L1580.36,686.27L1581.55,686.49L1582.74,686.70L1583.93,686.91L1585.12,687.12L1586.31,687.34L1587.51,687.55L1588.70,687.76L1589.89,687.97L1591.08,688.19L1592.27,688.40L1593.47,688.61L1594.66,688.82L1595.85,689.03L1597.04,689.24L1598.23,689.45L1599.43,689.66L1600.62,689.87L1601.81,690.08L1603.00,690.29"/>
</g>
<g stroke="#000" stroke-width="2" fill="none" stroke-linecap="butt" shape-rendering="crispEdges">
<rect x="128.0" y="89.0" width="1505.0" height="1054.0"/>
<path d="M158,1143.0v-16M158,89.0v15M230,1143.0v-10M230,89.0v9M303,1143.0v-10M303,89.0v9M375,1143.0v-10M375,89.0v9M447,1143.0v-16M447,89.0v15M519,1143.0v-10M519,89.0v9M592,1143.0v-10M592,89.0v9M664,1143.0v-10M664,89.0v9M736,1143.0v-16M736,89.0v15M808,1143.0v-10M808,89.0v9M881,1143.0v-10M881,89.0v9M953,1143.0v-10M953,89.0v9M1025,1143.0v-16M1025,89.0v15M1097,1143.0v-10M1097,89.0v9M1170,1143.0v-10M1170,89.0v9M1242,1143.0v-10M1242,89.0v9M1314,1143.0v-16M1314,89.0v15M1386,1143.0v-10M1386,89.0v9M1459,1143.0v-10M1459,89.0v9M1531,1143.0v-10M1531,89.0v9M1603,1143.0v-16M1603,89.0v15M128.0,1128h16M1633.0,1128h-15M128.0,1098h10M1633.0,1098h-9M128.0,1068h10M1633.0,1068h-9M128.0,1039h10M1633.0,1039h-9M128.0,1009h10M1633.0,1009h-9M128.0,979h16M1633.0,979h-15M128.0,950h10M1633.0,950h-9M128.0,920h10M1633.0,920h-9M128.0,890h10M1633.0,890h-9M128.0,861h10M1633.0,861h-9M128.0,831h16M1633.0,831h-15M128.0,801h10M1633.0,801h-9M128.0,771h10M1633.0,771h-9M128.0,742h10M1633.0,742h-9M128.0,712h10M1633.0,712h-9M128.0,682h16M1633.0,682h-15M128.0,653h10M1633.0,653h-9M128.0,623h10M1633.0,623h-9M128.0,593h10M1633.0,593h-9M128.0,564h10M1633.0,564h-9M128.0,534h16M1633.0,534h-15M128.0,504h10M1633.0,504h-9M128.0,475h10M1633.0,475h-9M128.0,445h10M1633.0,445h-9M128.0,415h10M1633.0,415h-9M128.0,386h16M1633.0,386h-15M128.0,356h10M1633.0,356h-9M128.0,326h10M1633.0,326h-9M128.0,296h10M1633.0,296h-9M128.0,267h10M1633.0,267h-9M128.0,237h16M1633.0,237h-15M128.0,207h10M1633.0,207h-9M128.0,178h10M1633.0,178h-9M128.0,148h10M1633.0,148h-9M128.0,118h10M1633.0,118h-9"/>
</g>
<g font-family="'Liberation Sans', sans-serif" font-size="57.3" fill="#000" stroke="#000" stroke-width="0.3" text-anchor="middle">
<text x="158.00" y="1206">0</text>
<text x="447.00" y="1206">2</text>
<text x="736.00" y="1206">4</text>
<text x="1025.00" y="1206">6</text>
<text x="1314.00" y="1206">8</text>
<text x="1603.00" y="1206">10</text>
</g>
<g font-family="'Liberation Sans', sans-serif" font-size="57.3" fill="#000" stroke="#000" stroke-width="0.3" text-anchor="end">
<text x="116.4" y="1147.20">0</text>
<text x="116.4" y="998.77">1</text>
<text x="116.4" y="850.34">2</text>
<text x="116.4" y="701.91">3</text>
<text x="116.4" y="553.49">4</text>
<text x="116.4" y="405.06">5</text>
<text x="116.4" y="256.63">6</text>
<text x="116.4" y="108.20">7</text>
</g>
<text font-family="'Liberation Sans', sans-serif" font-size="58.3" fill="#000" stroke="#000" stroke-width="0.3" x="881.2" y="1291.9" text-anchor="middle"><tspan font-style="italic">ρ</tspan>/M</text>
<text font-family="'Liberation Sans', sans-serif" font-size="57.6" fill="#000" stroke="#000" stroke-width="0.3" transform="translate(50.1,617.3) rotate(-90)" text-anchor="middle">Veff</text>
<text font-family="'Liberation Sans', sans-serif" font-size="45.6" fill="#666" stroke="#666" stroke-width="0.3" x="880.0" y="41.6" text-anchor="middle">z=0 a=1 one−dimensional effective potential</text>
<rect x="1242" y="131" width="77" height="7" fill="#00ff00" shape-rendering="crispEdges"/>
<text font-family="'Liberation Sans', sans-serif" font-size="45.7" fill="#000" stroke="#000" stroke-width="0.25" x="1346" y="149.70"><tspan font-style="italic">v</tspan>=1</text>
<rect x="1242" y="241" width="77" height="7" fill="#ff0000" shape-rendering="crispEdges"/>
<text font-family="'Liberation Sans', sans-serif" font-size="45.7" fill="#000" stroke="#000" stroke-width="0.25" x="1346" y="259.70"><tspan font-style="italic">v</tspan>=3</text>
<rect x="1242" y="350" width="77" height="7" fill="#800080" shape-rendering="crispEdges"/>
<text font-family="'Liberation Sans', sans-serif" font-size="45.7" fill="#000" stroke="#000" stroke-width="0.25" x="1346" y="368.70"><tspan font-style="italic">v</tspan>=6</text>
<rect x="1242" y="460" width="77" height="7" fill="#0000ff" shape-rendering="crispEdges"/>
<text font-family="'Liberation Sans', sans-serif" font-size="45.7" fill="#000" stroke="#000" stroke-width="0.25" x="1346" y="478.70"><tspan font-style="italic">v</tspan>=9</text>
</svg>
</body></html>
